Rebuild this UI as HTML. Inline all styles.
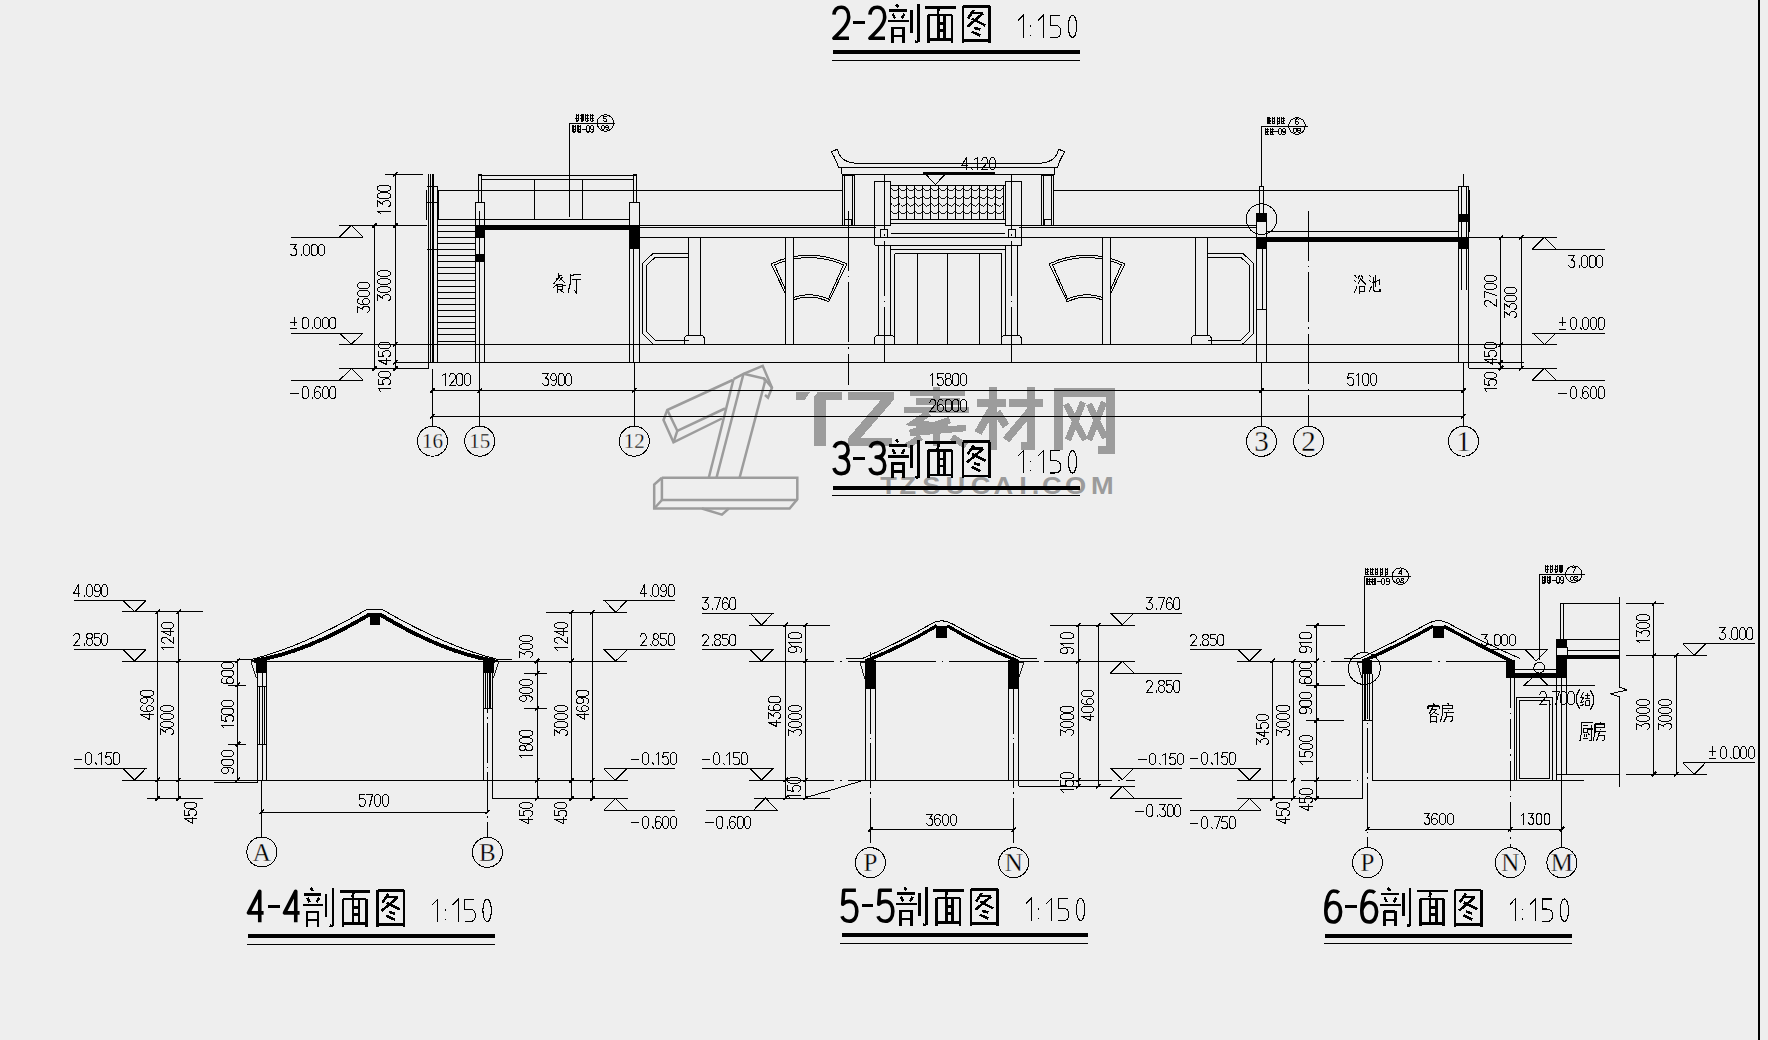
<!DOCTYPE html>
<html><head><meta charset="utf-8"><style>
html,body{margin:0;padding:0;width:1768px;height:1040px;overflow:hidden;background:#eeeeee;}
svg{display:block;}
.ser{font-family:"Liberation Serif",serif;fill:#000;stroke:#eeeeee;stroke-width:0.3px;paint-order:normal;shape-rendering:geometricPrecision;}
.wm{font-family:"Liberation Sans",sans-serif;font-weight:bold;fill:#9b9b9b;stroke:none;}
</style></head><body>
<svg width="1768" height="1040" viewBox="0 0 1768 1040">
<rect width="1768" height="1040" fill="#eeeeee"/>
<g stroke="#000" fill="none" stroke-linecap="butt" shape-rendering="crispEdges">
<path d="M661.9,477.7 L797.3,477.7 L797.3,499.2 L789.6,508.5 L654.2,508.5 L654.2,484.6 L661.9,477.7" stroke="#9c9c9c" stroke-width="2.5" fill="none" stroke-linejoin="miter" shape-rendering="geometricPrecision"/>
<path d="M661.9,477.7 L661.9,500 L797.3,500" stroke="#9c9c9c" stroke-width="2.5" fill="none" stroke-linejoin="miter" shape-rendering="geometricPrecision"/>
<path d="M661.9,500 L654.2,508.5" stroke="#9c9c9c" stroke-width="2.5" fill="none" stroke-linejoin="miter" shape-rendering="geometricPrecision"/>
<path d="M701.9,508.5 L721.9,514.6 L728.8,508.5" stroke="#9c9c9c" stroke-width="2.5" fill="none" stroke-linejoin="miter" shape-rendering="geometricPrecision"/>
<path d="M708.8,477.7 L733.5,379.2" stroke="#9c9c9c" stroke-width="2.5" fill="none" stroke-linejoin="miter" shape-rendering="geometricPrecision"/>
<path d="M716.5,477.7 L743.5,373.8" stroke="#9c9c9c" stroke-width="2.5" fill="none" stroke-linejoin="miter" shape-rendering="geometricPrecision"/>
<path d="M739.6,477.7 L765,381.5" stroke="#9c9c9c" stroke-width="2.5" fill="none" stroke-linejoin="miter" shape-rendering="geometricPrecision"/>
<path d="M733.5,379.2 L743.5,373.8 L762.7,365.8 L772,387.7 L768,397.7 L765,395" stroke="#9c9c9c" stroke-width="2.5" fill="none" stroke-linejoin="miter" shape-rendering="geometricPrecision"/>
<path d="M743.5,373.8 L764.2,378.5 L772,387.7" stroke="#9c9c9c" stroke-width="2.5" fill="none" stroke-linejoin="miter" shape-rendering="geometricPrecision"/>
<path d="M764.2,378.5 L765,381.5" stroke="#9c9c9c" stroke-width="2.5" fill="none" stroke-linejoin="miter" shape-rendering="geometricPrecision"/>
<path d="M732.7,380 L667.3,410 L663.5,420 L673.5,442.3 L721.9,418.5" stroke="#9c9c9c" stroke-width="2.5" fill="none" stroke-linejoin="miter" shape-rendering="geometricPrecision"/>
<path d="M667.3,410 L677.3,430.8 L673.5,442.3" stroke="#9c9c9c" stroke-width="2.5" fill="none" stroke-linejoin="miter" shape-rendering="geometricPrecision"/>
<path d="M677.3,430.8 L725,408.5" stroke="#9c9c9c" stroke-width="2.5" fill="none" stroke-linejoin="miter" shape-rendering="geometricPrecision"/>
<path d="M795.8,391.5 L810.5,391.5 L805,399.7 L795.8,399.7 Z M818,391.5 L842.4,391.5 L842.4,399.7 L825.6,399.7 L825.6,446.3 L814,446.3 L814,397 Z" fill="#9c9c9c" stroke="none"/>
<path d="M847.7,391.5 L894.3,391.5 L894.3,399.2 L861,437.7 L892,437.7 L892,446.3 L847.7,446.3 L847.7,438.5 L881,399.7 L847.7,399.7 Z" fill="#9c9c9c" stroke="none"/>
<path d="M910,393 L965,393 M916,401.5 L960,401.5 M904,410 L968.5,410 M936.5,386.5 L936.5,412" stroke="#9c9c9c" stroke-width="6.5" fill="none" stroke-linecap="butt"/>
<path d="M929,413 L914,423 L948,427 M950,420 L910,433 L966,428 M936.5,430 L936.5,446.3 M921,437 L907,446 M952,437 L966,446" stroke="#9c9c9c" stroke-width="6.5" fill="none" stroke-linecap="butt"/>
<path d="M977,403 L1006,403 M993,386.5 L993,450.2 M993,407 L978,433 M997,412 L1006,426" stroke="#9c9c9c" stroke-width="8" fill="none" stroke-linecap="butt"/>
<path d="M1009,403 L1043.3,403 M1031,386.5 L1031,446 L1021,446 M1031,410 L1006,440" stroke="#9c9c9c" stroke-width="8" fill="none" stroke-linecap="butt"/>
<path d="M1058.5,450.2 L1058.5,392.5 L1110.5,392.5 L1110.5,450.2 L1098,450.2" stroke="#9c9c9c" stroke-width="8.5" fill="none" stroke-linecap="butt"/>
<path d="M1066,404 L1085,440 M1083,402 L1068,440 M1089,404 L1105,438 M1104,402 L1089,440" stroke="#9c9c9c" stroke-width="6.5" fill="none" stroke-linecap="butt"/>
<text transform="translate(880.3,494.3) scale(1.15,1)" font-size="23.7" class="wm">T</text>
<text transform="translate(899.6,494.3) scale(1.15,1)" font-size="23.7" class="wm">Z</text>
<text transform="translate(922.3,494.3) scale(1.15,1)" font-size="23.7" class="wm">S</text>
<text transform="translate(945.6,494.3) scale(1.15,1)" font-size="23.7" class="wm">U</text>
<text transform="translate(970.7,494.3) scale(1.15,1)" font-size="23.7" class="wm">C</text>
<text transform="translate(993.6,494.3) scale(1.15,1)" font-size="23.7" class="wm">A</text>
<text transform="translate(1019.2,494.3) scale(1.15,1)" font-size="23.7" class="wm">I</text>
<text transform="translate(1031.8,494.3) scale(1.15,1)" font-size="23.7" class="wm">.</text>
<text transform="translate(1042.1,494.3) scale(1.15,1)" font-size="23.7" class="wm">C</text>
<text transform="translate(1064.9,494.3) scale(1.15,1)" font-size="23.7" class="wm">O</text>
<text transform="translate(1091.0,494.3) scale(1.15,1)" font-size="23.7" class="wm">M</text>
<path d="M339.7,237 L351.3,225.4 L362.9,237" stroke-width="1" fill="none"/>
<line x1="291" y1="237" x2="362.9" y2="237" stroke-width="1"/>
<path d="M290.5,244.5 L296.5,244.5 L293.5,248.5 L295.5,248.5 L296.5,250.5 L296.5,253.5 L295.5,255.5 L292.5,255.5 L290.5,254.5 M301.5,254.5 L301.5,255.5 M305.5,244.5 L307.5,244.5 L309.5,246.5 L309.5,253.5 L307.5,255.5 L305.5,255.5 L303.5,253.5 L303.5,246.5 L305.5,244.5 M312.5,244.5 L315.5,244.5 L317.5,246.5 L317.5,253.5 L315.5,255.5 L312.5,255.5 L311.5,253.5 L311.5,246.5 L312.5,244.5 M320.5,244.5 L322.5,244.5 L324.5,246.5 L324.5,253.5 L322.5,255.5 L320.5,255.5 L318.5,253.5 L318.5,246.5 L320.5,244.5" stroke-width="1" fill="none" stroke-linejoin="round" stroke-linecap="square"/>
<path d="M339.7,333.3 L351.3,344.2 L362.9,333.3" stroke-width="1" fill="none"/>
<line x1="291" y1="333.3" x2="362.9" y2="333.3" stroke-width="1"/>
<path d="M294.5,317.5 L294.5,325.5 M290.5,322.5 L296.5,322.5 M290.5,328.5 L296.5,328.5 M303.5,317.5 L306.5,317.5 L308.5,319.5 L308.5,326.5 L306.5,328.5 L303.5,328.5 L302.5,326.5 L302.5,319.5 L303.5,317.5 M312.5,327.5 L312.5,328.5 M316.5,317.5 L318.5,317.5 L320.5,319.5 L320.5,326.5 L318.5,328.5 L316.5,328.5 L314.5,326.5 L314.5,319.5 L316.5,317.5 M324.5,317.5 L326.5,317.5 L328.5,319.5 L328.5,326.5 L326.5,328.5 L324.5,328.5 L322.5,326.5 L322.5,319.5 L324.5,317.5 M331.5,317.5 L334.5,317.5 L335.5,319.5 L335.5,326.5 L334.5,328.5 L331.5,328.5 L329.5,326.5 L329.5,319.5 L331.5,317.5" stroke-width="1" fill="none" stroke-linejoin="round" stroke-linecap="square"/>
<path d="M339.7,380 L351.3,368.5 L362.9,380" stroke-width="1" fill="none"/>
<line x1="291" y1="380" x2="362.9" y2="380" stroke-width="1"/>
<path d="M290.5,393.5 L298.5,393.5 M303.5,386.5 L306.5,386.5 L308.5,389.5 L308.5,396.5 L306.5,398.5 L303.5,398.5 L302.5,396.5 L302.5,389.5 L303.5,386.5 M312.5,397.5 L312.5,398.5 M320.5,387.5 L318.5,386.5 L316.5,386.5 L314.5,389.5 L314.5,396.5 L316.5,398.5 L318.5,398.5 L320.5,396.5 L320.5,393.5 L318.5,391.5 L316.5,391.5 L314.5,393.5 M324.5,386.5 L326.5,386.5 L328.5,389.5 L328.5,396.5 L326.5,398.5 L324.5,398.5 L322.5,396.5 L322.5,389.5 L324.5,386.5 M331.5,386.5 L334.5,386.5 L335.5,389.5 L335.5,396.5 L334.5,398.5 L331.5,398.5 L329.5,396.5 L329.5,389.5 L331.5,386.5" stroke-width="1" fill="none" stroke-linejoin="round" stroke-linecap="square"/>
<line x1="339" y1="225.4" x2="427.3" y2="225.4" stroke-width="1"/>
<line x1="339" y1="344.2" x2="1557" y2="344.2" stroke-width="1"/>
<line x1="339" y1="368.5" x2="428" y2="368.5" stroke-width="1"/>
<line x1="374.5" y1="225.4" x2="374.5" y2="368.5" stroke-width="1"/>
<line x1="395.5" y1="174.3" x2="395.5" y2="370" stroke-width="1"/>
<line x1="385" y1="174.3" x2="423" y2="174.3" stroke-width="1"/>
<line x1="372.3" y1="227.6" x2="376.7" y2="223.2" stroke-width="1.6"/>
<line x1="372.3" y1="370.7" x2="376.7" y2="366.3" stroke-width="1.6"/>
<line x1="393.3" y1="176.5" x2="397.7" y2="172.1" stroke-width="1.6"/>
<line x1="393.3" y1="227.6" x2="397.7" y2="223.2" stroke-width="1.6"/>
<line x1="393.3" y1="346.4" x2="397.7" y2="342" stroke-width="1.6"/>
<line x1="393.3" y1="364.5" x2="397.7" y2="360.1" stroke-width="1.6"/>
<line x1="393.3" y1="370.7" x2="397.7" y2="366.3" stroke-width="1.6"/>
<path d="M357.5,312.5 L357.5,306.5 L362.5,309.5 L362.5,307.5 L364.5,306.5 L367.5,306.5 L369.5,307.5 L369.5,310.5 L367.5,312.5 M358.5,298.5 L357.5,300.5 L357.5,302.5 L360.5,304.5 L367.5,304.5 L369.5,302.5 L369.5,300.5 L367.5,298.5 L364.5,298.5 L362.5,300.5 L362.5,302.5 L364.5,304.5 M357.5,294.5 L357.5,292.5 L359.5,290.5 L367.5,290.5 L369.5,292.5 L369.5,294.5 L367.5,296.5 L359.5,296.5 L357.5,294.5 M357.5,286.5 L357.5,284.5 L359.5,282.5 L367.5,282.5 L369.5,284.5 L369.5,286.5 L367.5,288.5 L359.5,288.5 L357.5,286.5" stroke-width="1" fill="none" stroke-linejoin="round" stroke-linecap="square"/>
<path d="M380.5,213.5 L377.5,211.5 L390.5,211.5 M377.5,206.5 L377.5,200.5 L382.5,204.5 L382.5,202.5 L385.5,200.5 L388.5,200.5 L390.5,202.5 L390.5,205.5 L388.5,206.5 M377.5,197.5 L377.5,194.5 L380.5,192.5 L387.5,192.5 L390.5,194.5 L390.5,197.5 L387.5,198.5 L380.5,198.5 L377.5,197.5 M377.5,189.5 L377.5,186.5 L380.5,185.5 L387.5,185.5 L390.5,186.5 L390.5,189.5 L387.5,191.5 L380.5,191.5 L377.5,189.5" stroke-width="1" fill="none" stroke-linejoin="round" stroke-linecap="square"/>
<path d="M377.5,300.5 L377.5,294.5 L382.5,298.5 L382.5,296.5 L385.5,294.5 L388.5,294.5 L390.5,296.5 L390.5,299.5 L388.5,300.5 M377.5,290.5 L377.5,288.5 L380.5,286.5 L387.5,286.5 L390.5,288.5 L390.5,290.5 L387.5,292.5 L380.5,292.5 L377.5,290.5 M377.5,282.5 L377.5,280.5 L380.5,278.5 L387.5,278.5 L390.5,280.5 L390.5,282.5 L387.5,284.5 L380.5,284.5 L377.5,282.5 M377.5,274.5 L377.5,272.5 L380.5,270.5 L387.5,270.5 L390.5,272.5 L390.5,274.5 L387.5,276.5 L380.5,276.5 L377.5,274.5" stroke-width="1" fill="none" stroke-linejoin="round" stroke-linecap="square"/>
<path d="M390.5,360.5 L378.5,360.5 L386.5,364.5 L386.5,358.5 M378.5,351.5 L378.5,356.5 L383.5,356.5 L382.5,354.5 L382.5,352.5 L385.5,350.5 L388.5,350.5 L390.5,352.5 L390.5,355.5 L388.5,356.5 M378.5,346.5 L378.5,344.5 L380.5,342.5 L388.5,342.5 L390.5,344.5 L390.5,346.5 L388.5,348.5 L380.5,348.5 L378.5,346.5" stroke-width="1" fill="none" stroke-linejoin="round" stroke-linecap="square"/>
<path d="M380.5,391.5 L378.5,388.5 L390.5,388.5 M378.5,379.5 L378.5,384.5 L383.5,384.5 L382.5,382.5 L382.5,380.5 L385.5,378.5 L388.5,378.5 L390.5,380.5 L390.5,383.5 L388.5,384.5 M378.5,375.5 L378.5,373.5 L380.5,371.5 L388.5,371.5 L390.5,373.5 L390.5,375.5 L388.5,377.5 L380.5,377.5 L378.5,375.5" stroke-width="1" fill="none" stroke-linejoin="round" stroke-linecap="square"/>
<line x1="395.5" y1="362.3" x2="1523.8" y2="362.3" stroke-width="1"/>
<line x1="428" y1="174.1" x2="428" y2="368.5" stroke-width="1"/>
<line x1="430.5" y1="174.1" x2="430.5" y2="362.3" stroke-width="1"/>
<line x1="433.1" y1="174.1" x2="433.1" y2="362.3" stroke-width="1.5"/>
<line x1="437.5" y1="186.6" x2="437.5" y2="362.3" stroke-width="1"/>
<line x1="427.3" y1="186.6" x2="437.5" y2="186.6" stroke-width="1"/>
<line x1="427.3" y1="202.5" x2="437.5" y2="202.5" stroke-width="1"/>
<line x1="427.3" y1="249.1" x2="437.5" y2="249.1" stroke-width="1"/>
<line x1="426.4" y1="190" x2="426.4" y2="219.8" stroke-width="1.8"/>
<line x1="438.2" y1="190" x2="438.2" y2="219.8" stroke-width="1.8"/>
<line x1="437.5" y1="225.1" x2="475.4" y2="225.1" stroke-width="1"/>
<line x1="437.5" y1="231.2" x2="475.4" y2="231.2" stroke-width="1"/>
<line x1="437.5" y1="237.3" x2="475.4" y2="237.3" stroke-width="1"/>
<line x1="437.5" y1="243.4" x2="475.4" y2="243.4" stroke-width="1"/>
<line x1="437.5" y1="249.5" x2="475.4" y2="249.5" stroke-width="1"/>
<line x1="437.5" y1="255.6" x2="475.4" y2="255.6" stroke-width="1"/>
<line x1="437.5" y1="261.7" x2="475.4" y2="261.7" stroke-width="1"/>
<line x1="437.5" y1="267.8" x2="475.4" y2="267.8" stroke-width="1"/>
<line x1="437.5" y1="273.9" x2="475.4" y2="273.9" stroke-width="1"/>
<line x1="437.5" y1="280" x2="475.4" y2="280" stroke-width="1"/>
<line x1="437.5" y1="286.1" x2="475.4" y2="286.1" stroke-width="1"/>
<line x1="437.5" y1="292.2" x2="475.4" y2="292.2" stroke-width="1"/>
<line x1="437.5" y1="298.3" x2="475.4" y2="298.3" stroke-width="1"/>
<line x1="437.5" y1="304.4" x2="475.4" y2="304.4" stroke-width="1"/>
<line x1="437.5" y1="310.5" x2="475.4" y2="310.5" stroke-width="1"/>
<line x1="437.5" y1="316.6" x2="475.4" y2="316.6" stroke-width="1"/>
<line x1="437.5" y1="322.7" x2="475.4" y2="322.7" stroke-width="1"/>
<line x1="437.5" y1="328.8" x2="475.4" y2="328.8" stroke-width="1"/>
<line x1="437.5" y1="334.9" x2="475.4" y2="334.9" stroke-width="1"/>
<line x1="437.5" y1="341" x2="475.4" y2="341" stroke-width="1"/>
<line x1="437.5" y1="219.3" x2="629.2" y2="219.3" stroke-width="1"/>
<line x1="437.7" y1="190.5" x2="842.3" y2="190.5" stroke-width="1"/>
<line x1="1053.8" y1="190.5" x2="1458.5" y2="190.5" stroke-width="1"/>
<line x1="478.5" y1="175.8" x2="636" y2="175.8" stroke-width="1"/>
<line x1="481.6" y1="179.2" x2="633" y2="179.2" stroke-width="1"/>
<rect x="478.5" y="174.1" width="3.1" height="28.2" fill="none" stroke-width="1"/>
<rect x="633" y="174.1" width="3" height="28.2" fill="none" stroke-width="1"/>
<line x1="534.6" y1="179.2" x2="534.6" y2="219.3" stroke-width="1"/>
<line x1="582.3" y1="179.2" x2="582.3" y2="219.3" stroke-width="1"/>
<line x1="569.2" y1="123" x2="569.2" y2="217" stroke-width="1"/>
<line x1="569.2" y1="123" x2="615.4" y2="123" stroke-width="1"/>
<circle cx="605.4" cy="123" r="8.3" fill="none" stroke-width="1"/>
<rect x="475.4" y="202.3" width="9.1" height="160" fill="none" stroke-width="1"/>
<rect x="475.4" y="225.1" width="9.1" height="12.5" fill="#000" stroke="none"/>
<rect x="475.4" y="254.4" width="9.1" height="7.2" fill="#000" stroke="none"/>
<line x1="479.7" y1="211" x2="479.7" y2="426.2" stroke-width="1"/>
<rect x="484.5" y="225.3" width="144.7" height="4.7" fill="#000" stroke="none"/>
<rect x="629.2" y="202.3" width="10.5" height="160" fill="none" stroke-width="1"/>
<rect x="629.2" y="225.3" width="10.5" height="23.9" fill="#000" stroke="none"/>
<line x1="633.8" y1="249.2" x2="633.8" y2="362.3" stroke-width="1"/>
<line x1="634.3" y1="362.3" x2="634.3" y2="426.2" stroke-width="1"/>
<line x1="432.5" y1="368.5" x2="432.5" y2="426.2" stroke-width="1"/>
<line x1="639.7" y1="225.6" x2="876" y2="225.6" stroke-width="1"/>
<line x1="639.7" y1="227.7" x2="876" y2="227.7" stroke-width="1"/>
<line x1="639.7" y1="237.3" x2="874.6" y2="237.3" stroke-width="1"/>
<line x1="1019" y1="225.6" x2="1256.2" y2="225.6" stroke-width="1"/>
<line x1="1019" y1="227.7" x2="1256.2" y2="227.7" stroke-width="1"/>
<line x1="1021.5" y1="237.3" x2="1256.2" y2="237.3" stroke-width="1"/>
<line x1="688.5" y1="237.3" x2="688.5" y2="335.4" stroke-width="1"/>
<line x1="700.5" y1="237.3" x2="700.5" y2="335.4" stroke-width="1"/>
<path d="M684.7,344.2 L684.7,339 Q684.7,335.4 688.5,335.4 L700.5,335.4 Q704.3,335.4 704.3,339 L704.3,344.2" stroke-width="1" fill="none"/>
<line x1="1195.5" y1="237.3" x2="1195.5" y2="335.4" stroke-width="1"/>
<line x1="1207.5" y1="237.3" x2="1207.5" y2="335.4" stroke-width="1"/>
<path d="M1191.7,344.2 L1191.7,339 Q1191.7,335.4 1195.5,335.4 L1207.5,335.4 Q1211.3,335.4 1211.3,339 L1211.3,344.2" stroke-width="1" fill="none"/>
<line x1="785.4" y1="237.3" x2="785.4" y2="344.2" stroke-width="1"/>
<line x1="793.4" y1="237.3" x2="793.4" y2="344.2" stroke-width="1"/>
<line x1="1102.6" y1="237.3" x2="1102.6" y2="344.2" stroke-width="1"/>
<line x1="1110.6" y1="237.3" x2="1110.6" y2="344.2" stroke-width="1"/>
<path d="M688.5,253 L653.5,253 L642.3,263.5 L642.3,333.5 L653.5,344.2" stroke-width="1" fill="none"/>
<path d="M688.5,257.2 L655.3,257.2 L646.3,265.5 L646.3,331.5 L655.3,340.2 L688.5,340.2" stroke-width="1" fill="none"/>
<path d="M1207.5,253 L1242.5,253 L1253.7,263.5 L1253.7,333.5 L1242.5,344.2" stroke-width="1" fill="none"/>
<path d="M1207.5,257.2 L1240.7,257.2 L1249.7,265.5 L1249.7,331.5 L1240.7,340.2 L1207.5,340.2" stroke-width="1" fill="none"/>
<path d="M771.12,263.87 A88,88 0 0 1 846.88,263.87 L828.8,301.78 A46,46 0 0 0 789.2,301.78 Z" stroke-width="1" fill="none"/>
<path d="M774.55,264.83 A85.7,85.7 0 0 1 843.45,264.83 L828.41,299.07 A48.3,48.3 0 0 0 789.59,299.07 Z" stroke-width="1" fill="none"/>
<path d="M1049.12,263.87 A88,88 0 0 1 1124.88,263.87 L1106.8,301.78 A46,46 0 0 0 1067.2,301.78 Z" stroke-width="1" fill="none"/>
<path d="M1052.55,264.83 A85.7,85.7 0 0 1 1121.45,264.83 L1106.41,299.07 A48.3,48.3 0 0 0 1067.59,299.07 Z" stroke-width="1" fill="none"/>
<rect x="786" y="250" width="6.8" height="60" fill="#eeeeee" stroke="none"/>
<rect x="1103.2" y="250" width="6.8" height="60" fill="#eeeeee" stroke="none"/>
<line x1="785.4" y1="237.3" x2="785.4" y2="344.2" stroke-width="1"/>
<line x1="793.4" y1="237.3" x2="793.4" y2="344.2" stroke-width="1"/>
<line x1="1102.6" y1="237.3" x2="1102.6" y2="344.2" stroke-width="1"/>
<line x1="1110.6" y1="237.3" x2="1110.6" y2="344.2" stroke-width="1"/>
<line x1="848.5" y1="210.8" x2="848.5" y2="384.6" stroke-width="1" stroke-dasharray="60 5 1.5 5"/>
<path d="M853.8,163 L1042.2,163" stroke-width="1" fill="none"/>
<path d="M853.8,163 C845,162 839,157 837.5,149.2 L831.3,151.8 C835,158 837.5,163 838.5,167.7 L1057.5,167.7 C1058.5,163 1061,158 1064.7,151.8 L1058.5,149.2 C1057,157 1051,162 1042.2,163" stroke-width="1" fill="none"/>
<line x1="841.5" y1="174" x2="1054.5" y2="174" stroke-width="1"/>
<line x1="841.5" y1="167.7" x2="841.5" y2="174" stroke-width="1"/>
<line x1="1054.5" y1="167.7" x2="1054.5" y2="174" stroke-width="1"/>
<rect x="842.3" y="175.4" width="12.3" height="50" fill="none" stroke-width="1"/>
<rect x="1041.4" y="175.4" width="12.3" height="50" fill="none" stroke-width="1"/>
<rect x="844.3" y="219.2" width="7.2" height="6.2" fill="none" stroke-width="1"/>
<rect x="1044.5" y="219.2" width="7.2" height="6.2" fill="none" stroke-width="1"/>
<line x1="844.8" y1="176" x2="844.8" y2="219.2" stroke-width="1"/>
<line x1="852.3" y1="176" x2="852.3" y2="225.4" stroke-width="1"/>
<line x1="1043.6" y1="176" x2="1043.6" y2="225.4" stroke-width="1"/>
<line x1="1051.2" y1="176" x2="1051.2" y2="219.2" stroke-width="1"/>
<rect x="890.8" y="185.4" width="114.6" height="33.8" fill="none" stroke-width="1"/>
<line x1="890.8" y1="223.8" x2="1005.4" y2="223.8" stroke-width="1"/>
<rect x="874.6" y="181.5" width="16.2" height="43.9" fill="none" stroke-width="1"/>
<rect x="1005.4" y="181.5" width="16.1" height="43.9" fill="none" stroke-width="1"/>
<line x1="898.83" y1="185.4" x2="898.83" y2="219.2" stroke-width="1"/>
<line x1="906.86" y1="185.4" x2="906.86" y2="219.2" stroke-width="1"/>
<line x1="914.89" y1="185.4" x2="914.89" y2="219.2" stroke-width="1"/>
<line x1="922.92" y1="185.4" x2="922.92" y2="219.2" stroke-width="1"/>
<line x1="930.95" y1="185.4" x2="930.95" y2="219.2" stroke-width="1"/>
<line x1="938.98" y1="185.4" x2="938.98" y2="219.2" stroke-width="1"/>
<line x1="947.01" y1="185.4" x2="947.01" y2="219.2" stroke-width="1"/>
<line x1="955.04" y1="185.4" x2="955.04" y2="219.2" stroke-width="1"/>
<line x1="963.07" y1="185.4" x2="963.07" y2="219.2" stroke-width="1"/>
<line x1="971.1" y1="185.4" x2="971.1" y2="219.2" stroke-width="1"/>
<line x1="979.13" y1="185.4" x2="979.13" y2="219.2" stroke-width="1"/>
<line x1="987.16" y1="185.4" x2="987.16" y2="219.2" stroke-width="1"/>
<line x1="995.19" y1="185.4" x2="995.19" y2="219.2" stroke-width="1"/>
<line x1="1003.22" y1="185.4" x2="1003.22" y2="219.2" stroke-width="1"/>
<path d="M890.8,188 Q894.81,194 898.83,188 M898.83,188 Q902.84,194 906.86,188 M906.86,188 Q910.87,194 914.89,188 M914.89,188 Q918.9,194 922.92,188 M922.92,188 Q926.93,194 930.95,188 M930.95,188 Q934.96,194 938.98,188 M938.98,188 Q942.99,194 947.01,188 M947.01,188 Q951.02,194 955.04,188 M955.04,188 Q959.05,194 963.07,188 M963.07,188 Q967.08,194 971.1,188 M971.1,188 Q975.11,194 979.13,188 M979.13,188 Q983.14,194 987.16,188 M987.16,188 Q991.17,194 995.19,188 M995.19,188 Q999.2,194 1003.22,188 M890.8,195.6 Q894.81,201.6 898.83,195.6 M898.83,195.6 Q902.84,201.6 906.86,195.6 M906.86,195.6 Q910.87,201.6 914.89,195.6 M914.89,195.6 Q918.9,201.6 922.92,195.6 M922.92,195.6 Q926.93,201.6 930.95,195.6 M930.95,195.6 Q934.96,201.6 938.98,195.6 M938.98,195.6 Q942.99,201.6 947.01,195.6 M947.01,195.6 Q951.02,201.6 955.04,195.6 M955.04,195.6 Q959.05,201.6 963.07,195.6 M963.07,195.6 Q967.08,201.6 971.1,195.6 M971.1,195.6 Q975.11,201.6 979.13,195.6 M979.13,195.6 Q983.14,201.6 987.16,195.6 M987.16,195.6 Q991.17,201.6 995.19,195.6 M995.19,195.6 Q999.2,201.6 1003.22,195.6 M890.8,203.2 Q894.81,209.2 898.83,203.2 M898.83,203.2 Q902.84,209.2 906.86,203.2 M906.86,203.2 Q910.87,209.2 914.89,203.2 M914.89,203.2 Q918.9,209.2 922.92,203.2 M922.92,203.2 Q926.93,209.2 930.95,203.2 M930.95,203.2 Q934.96,209.2 938.98,203.2 M938.98,203.2 Q942.99,209.2 947.01,203.2 M947.01,203.2 Q951.02,209.2 955.04,203.2 M955.04,203.2 Q959.05,209.2 963.07,203.2 M963.07,203.2 Q967.08,209.2 971.1,203.2 M971.1,203.2 Q975.11,209.2 979.13,203.2 M979.13,203.2 Q983.14,209.2 987.16,203.2 M987.16,203.2 Q991.17,209.2 995.19,203.2 M995.19,203.2 Q999.2,209.2 1003.22,203.2 M890.8,210.8 Q894.81,216.8 898.83,210.8 M898.83,210.8 Q902.84,216.8 906.86,210.8 M906.86,210.8 Q910.87,216.8 914.89,210.8 M914.89,210.8 Q918.9,216.8 922.92,210.8 M922.92,210.8 Q926.93,216.8 930.95,210.8 M930.95,210.8 Q934.96,216.8 938.98,210.8 M938.98,210.8 Q942.99,216.8 947.01,210.8 M947.01,210.8 Q951.02,216.8 955.04,210.8 M955.04,210.8 Q959.05,216.8 963.07,210.8 M963.07,210.8 Q967.08,216.8 971.1,210.8 M971.1,210.8 Q975.11,216.8 979.13,210.8 M979.13,210.8 Q983.14,216.8 987.16,210.8 M987.16,210.8 Q991.17,216.8 995.19,210.8 M995.19,210.8 Q999.2,216.8 1003.22,210.8" stroke-width="0.9" fill="none"/>
<line x1="923" y1="173" x2="994.6" y2="173" stroke-width="1.5"/>
<path d="M924.6,173 L935.4,184.6 L946.2,173" stroke-width="1" fill="none"/>
<path d="M966.5,169.5 L966.5,157.5 L961.5,165.5 L967.5,165.5 M971.5,168.5 L972.5,169.5 M974.5,159.5 L977.5,157.5 L977.5,169.5 M981.5,160.5 L983.5,157.5 L986.5,157.5 L987.5,160.5 L987.5,162.5 L981.5,169.5 L987.5,169.5 M991.5,157.5 L993.5,157.5 L995.5,160.5 L995.5,167.5 L993.5,169.5 L991.5,169.5 L989.5,167.5 L989.5,160.5 L991.5,157.5" stroke-width="1" fill="none" stroke-linejoin="round" stroke-linecap="square"/>
<line x1="890.8" y1="233" x2="1005.4" y2="233" stroke-width="1"/>
<line x1="874.6" y1="237.2" x2="1021.5" y2="237.2" stroke-width="1"/>
<line x1="874.6" y1="245.4" x2="1021.5" y2="245.4" stroke-width="1"/>
<line x1="874.6" y1="225.4" x2="874.6" y2="245.4" stroke-width="1"/>
<line x1="1021.5" y1="225.4" x2="1021.5" y2="245.4" stroke-width="1"/>
<rect x="880.8" y="229.4" width="7" height="7.8" fill="none" stroke-width="1"/>
<rect x="1008.2" y="229.4" width="7" height="7.8" fill="none" stroke-width="1"/>
<line x1="890.8" y1="249.2" x2="1005.4" y2="249.2" stroke-width="1"/>
<line x1="894.6" y1="253.5" x2="1001.5" y2="253.5" stroke-width="1"/>
<line x1="878.5" y1="245.4" x2="878.5" y2="335.4" stroke-width="1"/>
<line x1="890.8" y1="245.4" x2="890.8" y2="335.4" stroke-width="1"/>
<path d="M874.7,344.2 L874.7,339 Q874.7,335.4 878.5,335.4 L890.8,335.4 Q894.6,335.4 894.6,339 L894.6,344.2" stroke-width="1" fill="none"/>
<line x1="1005.2" y1="245.4" x2="1005.2" y2="335.4" stroke-width="1"/>
<line x1="1017.5" y1="245.4" x2="1017.5" y2="335.4" stroke-width="1"/>
<path d="M1001.4,344.2 L1001.4,339 Q1001.4,335.4 1005.2,335.4 L1017.5,335.4 Q1021.3,335.4 1021.3,339 L1021.3,344.2" stroke-width="1" fill="none"/>
<line x1="884.2" y1="174" x2="884.2" y2="362.3" stroke-width="1" stroke-dasharray="55 5 1.5 5"/>
<line x1="1011.8" y1="174" x2="1011.8" y2="362.3" stroke-width="1" stroke-dasharray="55 5 1.5 5"/>
<line x1="894.6" y1="253.5" x2="894.6" y2="344.2" stroke-width="1"/>
<line x1="917" y1="253.5" x2="917" y2="344.2" stroke-width="1"/>
<line x1="947.7" y1="253.5" x2="947.7" y2="344.2" stroke-width="1"/>
<line x1="979.7" y1="253.5" x2="979.7" y2="344.2" stroke-width="1"/>
<line x1="1001.5" y1="253.5" x2="1001.5" y2="344.2" stroke-width="1"/>
<line x1="890.8" y1="249.2" x2="890.8" y2="253.5" stroke-width="1"/>
<line x1="1005.4" y1="249.2" x2="1005.4" y2="253.5" stroke-width="1"/>
<line x1="1261.5" y1="126" x2="1261.5" y2="186" stroke-width="1"/>
<line x1="1261.5" y1="126" x2="1307.7" y2="126" stroke-width="1"/>
<circle cx="1297" cy="126" r="8.3" fill="none" stroke-width="1"/>
<rect x="1259.2" y="186" width="4.6" height="27.8" fill="none" stroke-width="1"/>
<rect x="1256.4" y="213.8" width="10.4" height="148.5" fill="none" stroke-width="1"/>
<rect x="1256.4" y="213.8" width="10.4" height="7.7" fill="#000" stroke="none"/>
<rect x="1256.4" y="237" width="10.4" height="12.2" fill="#000" stroke="none"/>
<line x1="1262.3" y1="249.2" x2="1262.3" y2="309.2" stroke-width="1.6"/>
<line x1="1256.4" y1="309.2" x2="1266.8" y2="309.2" stroke-width="1"/>
<line x1="1261.5" y1="362.3" x2="1261.5" y2="426.2" stroke-width="1"/>
<circle cx="1261.5" cy="219.2" r="15.3" fill="none" stroke-width="1"/>
<line x1="1308.5" y1="210.8" x2="1308.5" y2="426.2" stroke-width="1" stroke-dasharray="50 5 1.5 5"/>
<line x1="1266.8" y1="231.5" x2="1458.5" y2="231.5" stroke-width="1"/>
<rect x="1266.8" y="237.4" width="191.7" height="4.2" fill="#000" stroke="none"/>
<rect x="1458.5" y="186.5" width="10.4" height="175.8" fill="none" stroke-width="1"/>
<rect x="1458.5" y="213.8" width="10.4" height="7.7" fill="#000" stroke="none"/>
<rect x="1458.5" y="237.4" width="10.4" height="11.8" fill="#000" stroke="none"/>
<line x1="1463.5" y1="174" x2="1463.5" y2="186.5" stroke-width="1"/>
<line x1="1463.5" y1="362.3" x2="1463.5" y2="426.2" stroke-width="1"/>
<line x1="1461.5" y1="186.5" x2="1461.5" y2="290" stroke-width="1"/>
<line x1="1466" y1="186.5" x2="1466" y2="290" stroke-width="1"/>
<line x1="1468.9" y1="190" x2="1468.9" y2="232" stroke-width="1.6"/>
<line x1="1468.9" y1="237.4" x2="1557" y2="237.4" stroke-width="1"/>
<line x1="1468.5" y1="368.2" x2="1557" y2="368.2" stroke-width="1"/>
<line x1="1468.5" y1="362.3" x2="1468.5" y2="368.2" stroke-width="1"/>
<line x1="1500.8" y1="237.4" x2="1500.8" y2="368.2" stroke-width="1"/>
<line x1="1521.2" y1="237.4" x2="1521.2" y2="368.2" stroke-width="1"/>
<line x1="1498.6" y1="239.6" x2="1503" y2="235.2" stroke-width="1.6"/>
<line x1="1498.6" y1="346.8" x2="1503" y2="342.4" stroke-width="1.6"/>
<line x1="1498.6" y1="364.5" x2="1503" y2="360.1" stroke-width="1.6"/>
<line x1="1498.6" y1="370.4" x2="1503" y2="366" stroke-width="1.6"/>
<line x1="1519" y1="239.6" x2="1523.4" y2="235.2" stroke-width="1.6"/>
<line x1="1519" y1="370.4" x2="1523.4" y2="366" stroke-width="1.6"/>
<path d="M1486.5,306.5 L1484.5,304.5 L1484.5,301.5 L1486.5,300.5 L1488.5,300.5 L1496.5,306.5 L1496.5,299.5 M1484.5,297.5 L1484.5,291.5 L1496.5,295.5 M1484.5,287.5 L1484.5,285.5 L1486.5,283.5 L1493.5,283.5 L1496.5,285.5 L1496.5,287.5 L1493.5,289.5 L1486.5,289.5 L1484.5,287.5 M1484.5,279.5 L1484.5,277.5 L1486.5,275.5 L1493.5,275.5 L1496.5,277.5 L1496.5,279.5 L1493.5,281.5 L1486.5,281.5 L1484.5,279.5" stroke-width="1" fill="none" stroke-linejoin="round" stroke-linecap="square"/>
<path d="M1504.5,317.5 L1504.5,311.5 L1509.5,315.5 L1509.5,313.5 L1511.5,311.5 L1514.5,311.5 L1516.5,313.5 L1516.5,316.5 L1514.5,317.5 M1504.5,309.5 L1504.5,303.5 L1509.5,307.5 L1509.5,305.5 L1511.5,303.5 L1514.5,303.5 L1516.5,305.5 L1516.5,308.5 L1514.5,309.5 M1504.5,299.5 L1504.5,297.5 L1506.5,295.5 L1514.5,295.5 L1516.5,297.5 L1516.5,299.5 L1514.5,301.5 L1506.5,301.5 L1504.5,299.5 M1504.5,291.5 L1504.5,289.5 L1506.5,287.5 L1514.5,287.5 L1516.5,289.5 L1516.5,291.5 L1514.5,293.5 L1506.5,293.5 L1504.5,291.5" stroke-width="1" fill="none" stroke-linejoin="round" stroke-linecap="square"/>
<path d="M1496.5,359.5 L1484.5,359.5 L1492.5,364.5 L1492.5,358.5 M1484.5,351.5 L1484.5,356.5 L1489.5,356.5 L1488.5,354.5 L1488.5,352.5 L1490.5,350.5 L1494.5,350.5 L1496.5,352.5 L1496.5,355.5 L1494.5,356.5 M1484.5,347.5 L1484.5,344.5 L1486.5,342.5 L1493.5,342.5 L1496.5,344.5 L1496.5,347.5 L1493.5,348.5 L1486.5,348.5 L1484.5,347.5" stroke-width="1" fill="none" stroke-linejoin="round" stroke-linecap="square"/>
<path d="M1486.5,391.5 L1484.5,388.5 L1496.5,388.5 M1484.5,379.5 L1484.5,384.5 L1489.5,385.5 L1488.5,383.5 L1488.5,381.5 L1490.5,379.5 L1494.5,379.5 L1496.5,380.5 L1496.5,383.5 L1494.5,385.5 M1484.5,376.5 L1484.5,374.5 L1486.5,372.5 L1493.5,372.5 L1496.5,374.5 L1496.5,376.5 L1493.5,378.5 L1486.5,378.5 L1484.5,376.5" stroke-width="1" fill="none" stroke-linejoin="round" stroke-linecap="square"/>
<path d="M1532.7,249 L1544.3,237.4 L1555.9,249" stroke-width="1" fill="none"/>
<line x1="1532.3" y1="249" x2="1605" y2="249" stroke-width="1"/>
<path d="M1568.5,255.5 L1574.5,255.5 L1571.5,260.5 L1573.5,260.5 L1574.5,262.5 L1574.5,265.5 L1573.5,267.5 L1570.5,267.5 L1568.5,265.5 M1579.5,265.5 L1579.5,267.5 M1583.5,255.5 L1585.5,255.5 L1587.5,257.5 L1587.5,265.5 L1585.5,267.5 L1583.5,267.5 L1581.5,265.5 L1581.5,257.5 L1583.5,255.5 M1590.5,255.5 L1593.5,255.5 L1595.5,257.5 L1595.5,265.5 L1593.5,267.5 L1590.5,267.5 L1589.5,265.5 L1589.5,257.5 L1590.5,255.5 M1598.5,255.5 L1600.5,255.5 L1602.5,257.5 L1602.5,265.5 L1600.5,267.5 L1598.5,267.5 L1596.5,265.5 L1596.5,257.5 L1598.5,255.5" stroke-width="1" fill="none" stroke-linejoin="round" stroke-linecap="square"/>
<path d="M1532.7,333 L1544.3,344.6 L1555.9,333" stroke-width="1" fill="none"/>
<line x1="1532.3" y1="333" x2="1605" y2="333" stroke-width="1"/>
<path d="M1562.5,317.5 L1562.5,325.5 M1559.5,322.5 L1565.5,322.5 M1559.5,329.5 L1565.5,329.5 M1572.5,317.5 L1574.5,317.5 L1576.5,319.5 L1576.5,326.5 L1574.5,329.5 L1572.5,329.5 L1570.5,326.5 L1570.5,319.5 L1572.5,317.5 M1580.5,327.5 L1581.5,329.5 M1584.5,317.5 L1586.5,317.5 L1588.5,319.5 L1588.5,326.5 L1586.5,329.5 L1584.5,329.5 L1582.5,326.5 L1582.5,319.5 L1584.5,317.5 M1592.5,317.5 L1594.5,317.5 L1596.5,319.5 L1596.5,326.5 L1594.5,329.5 L1592.5,329.5 L1590.5,326.5 L1590.5,319.5 L1592.5,317.5 M1599.5,317.5 L1602.5,317.5 L1604.5,319.5 L1604.5,326.5 L1602.5,329.5 L1599.5,329.5 L1598.5,326.5 L1598.5,319.5 L1599.5,317.5" stroke-width="1" fill="none" stroke-linejoin="round" stroke-linecap="square"/>
<path d="M1532.7,380 L1544.3,368.2 L1555.9,380" stroke-width="1" fill="none"/>
<line x1="1532.3" y1="380" x2="1605" y2="380" stroke-width="1"/>
<path d="M1558.5,393.5 L1566.5,393.5 M1572.5,386.5 L1574.5,386.5 L1576.5,389.5 L1576.5,396.5 L1574.5,398.5 L1572.5,398.5 L1570.5,396.5 L1570.5,389.5 L1572.5,386.5 M1580.5,397.5 L1581.5,398.5 M1588.5,388.5 L1586.5,386.5 L1584.5,386.5 L1582.5,389.5 L1582.5,396.5 L1584.5,398.5 L1586.5,398.5 L1588.5,396.5 L1588.5,394.5 L1586.5,391.5 L1584.5,391.5 L1582.5,394.5 M1592.5,386.5 L1594.5,386.5 L1596.5,389.5 L1596.5,396.5 L1594.5,398.5 L1592.5,398.5 L1590.5,396.5 L1590.5,389.5 L1592.5,386.5 M1599.5,386.5 L1602.5,386.5 L1604.5,389.5 L1604.5,396.5 L1602.5,398.5 L1599.5,398.5 L1598.5,396.5 L1598.5,389.5 L1599.5,386.5" stroke-width="1" fill="none" stroke-linejoin="round" stroke-linecap="square"/>
<line x1="432.5" y1="390.5" x2="1463.5" y2="390.5" stroke-width="1"/>
<line x1="432.5" y1="416.2" x2="1463.5" y2="416.2" stroke-width="1"/>
<line x1="430.3" y1="392.7" x2="434.7" y2="388.3" stroke-width="1.6"/>
<line x1="477.5" y1="392.7" x2="481.9" y2="388.3" stroke-width="1.6"/>
<line x1="632.1" y1="392.7" x2="636.5" y2="388.3" stroke-width="1.6"/>
<line x1="1259.3" y1="392.7" x2="1263.7" y2="388.3" stroke-width="1.6"/>
<line x1="1461.3" y1="392.7" x2="1465.7" y2="388.3" stroke-width="1.6"/>
<line x1="430.3" y1="418.4" x2="434.7" y2="414" stroke-width="1.6"/>
<line x1="1461.3" y1="418.4" x2="1465.7" y2="414" stroke-width="1.6"/>
<path d="M442.5,375.5 L445.5,373.5 L445.5,385.5 M449.5,376.5 L450.5,373.5 L453.5,373.5 L455.5,375.5 L455.5,378.5 L449.5,385.5 L455.5,385.5 M458.5,373.5 L461.5,373.5 L462.5,375.5 L462.5,383.5 L461.5,385.5 L458.5,385.5 L456.5,383.5 L456.5,375.5 L458.5,373.5 M466.5,373.5 L468.5,373.5 L470.5,375.5 L470.5,383.5 L468.5,385.5 L466.5,385.5 L464.5,383.5 L464.5,375.5 L466.5,373.5" stroke-width="1" fill="none" stroke-linejoin="round" stroke-linecap="square"/>
<path d="M542.5,373.5 L548.5,373.5 L545.5,378.5 L547.5,378.5 L548.5,380.5 L548.5,383.5 L547.5,385.5 L544.5,385.5 L542.5,383.5 M551.5,384.5 L552.5,385.5 L554.5,385.5 L556.5,382.5 L556.5,376.5 L554.5,373.5 L552.5,373.5 L550.5,376.5 L550.5,378.5 L552.5,380.5 L554.5,380.5 L556.5,378.5 M559.5,373.5 L562.5,373.5 L564.5,376.5 L564.5,383.5 L562.5,385.5 L559.5,385.5 L558.5,383.5 L558.5,376.5 L559.5,373.5 M567.5,373.5 L569.5,373.5 L571.5,376.5 L571.5,383.5 L569.5,385.5 L567.5,385.5 L565.5,383.5 L565.5,376.5 L567.5,373.5" stroke-width="1" fill="none" stroke-linejoin="round" stroke-linecap="square"/>
<path d="M930.5,375.5 L932.5,373.5 L932.5,385.5 M943.5,373.5 L937.5,373.5 L937.5,378.5 L939.5,377.5 L941.5,377.5 L943.5,380.5 L943.5,383.5 L941.5,385.5 L938.5,385.5 L937.5,383.5 M946.5,373.5 L949.5,373.5 L950.5,374.5 L950.5,377.5 L949.5,378.5 L946.5,378.5 L945.5,377.5 L945.5,374.5 L946.5,373.5 M946.5,378.5 L945.5,380.5 L945.5,383.5 L946.5,385.5 L949.5,385.5 L951.5,383.5 L951.5,380.5 L949.5,378.5 M954.5,373.5 L957.5,373.5 L958.5,375.5 L958.5,383.5 L957.5,385.5 L954.5,385.5 L952.5,383.5 L952.5,375.5 L954.5,373.5 M962.5,373.5 L964.5,373.5 L966.5,375.5 L966.5,383.5 L964.5,385.5 L962.5,385.5 L960.5,383.5 L960.5,375.5 L962.5,373.5" stroke-width="1" fill="none" stroke-linejoin="round" stroke-linecap="square"/>
<path d="M1353.5,373.5 L1348.5,373.5 L1347.5,378.5 L1349.5,377.5 L1351.5,377.5 L1353.5,379.5 L1353.5,383.5 L1352.5,385.5 L1349.5,385.5 L1347.5,383.5 M1356.5,375.5 L1358.5,373.5 L1358.5,385.5 M1364.5,373.5 L1367.5,373.5 L1368.5,375.5 L1368.5,382.5 L1367.5,385.5 L1364.5,385.5 L1362.5,382.5 L1362.5,375.5 L1364.5,373.5 M1372.5,373.5 L1374.5,373.5 L1376.5,375.5 L1376.5,382.5 L1374.5,385.5 L1372.5,385.5 L1370.5,382.5 L1370.5,375.5 L1372.5,373.5" stroke-width="1" fill="none" stroke-linejoin="round" stroke-linecap="square"/>
<path d="M929.5,402.5 L931.5,399.5 L934.5,399.5 L935.5,401.5 L935.5,404.5 L929.5,411.5 L935.5,411.5 M942.5,400.5 L941.5,399.5 L939.5,399.5 L937.5,402.5 L937.5,409.5 L939.5,411.5 L941.5,411.5 L943.5,409.5 L943.5,406.5 L941.5,404.5 L939.5,404.5 L937.5,406.5 M946.5,399.5 L949.5,399.5 L951.5,401.5 L951.5,409.5 L949.5,411.5 L946.5,411.5 L945.5,409.5 L945.5,401.5 L946.5,399.5 M954.5,399.5 L957.5,399.5 L958.5,401.5 L958.5,409.5 L957.5,411.5 L954.5,411.5 L952.5,409.5 L952.5,401.5 L954.5,399.5 M962.5,399.5 L964.5,399.5 L966.5,401.5 L966.5,409.5 L964.5,411.5 L962.5,411.5 L960.5,409.5 L960.5,401.5 L962.5,399.5" stroke-width="1" fill="none" stroke-linejoin="round" stroke-linecap="square"/>
<circle cx="432.5" cy="441.2" r="15" fill="none" stroke-width="1"/>
<text x="432.5" y="441.2" font-size="21" text-anchor="middle" dominant-baseline="central" class="ser">16</text>
<circle cx="479.7" cy="441.2" r="15" fill="none" stroke-width="1"/>
<text x="479.7" y="441.2" font-size="21" text-anchor="middle" dominant-baseline="central" class="ser">15</text>
<circle cx="634.3" cy="441.2" r="15" fill="none" stroke-width="1"/>
<text x="634.3" y="441.2" font-size="21" text-anchor="middle" dominant-baseline="central" class="ser">12</text>
<circle cx="1261.5" cy="441.3" r="15" fill="none" stroke-width="1"/>
<text x="1261.5" y="441.3" font-size="29" text-anchor="middle" dominant-baseline="central" class="ser">3</text>
<circle cx="1308.6" cy="441.3" r="15" fill="none" stroke-width="1"/>
<text x="1308.6" y="441.3" font-size="29" text-anchor="middle" dominant-baseline="central" class="ser">2</text>
<circle cx="1463.5" cy="441.2" r="15" fill="none" stroke-width="1"/>
<text x="1463.5" y="441.2" font-size="29" text-anchor="middle" dominant-baseline="central" class="ser">1</text>
<path d="M 833.9,14.64 C 834.49,9.06 837.16,7.2 841.3,7.2 C 845.74,7.2 848.7,10.92 848.7,17.12 C 848.7,23.32 843.52,28.9 833.9,38.2 L 849,38.2" stroke-width="3.6" fill="none" stroke-linejoin="round" stroke-linecap="butt" shape-rendering="geometricPrecision"/>
<path d="M853.4,22.7 L864.9,22.7" stroke-width="3.2" fill="none"/>
<path d="M 869.9,14.64 C 870.49,9.06 873.16,7.2 877.3,7.2 C 881.74,7.2 884.7,10.92 884.7,17.12 C 884.7,23.32 879.52,28.9 869.9,38.2 L 885,38.2" stroke-width="3.6" fill="none" stroke-linejoin="round" stroke-linecap="butt" shape-rendering="geometricPrecision"/>
<path d="M896,4.2 L898.4,7 M889,10.2 L906.7,10.2 M892.6,13.7 L895,18.4 M904.4,13.7 L902,18.4 M888,21.1 L908.7,21.1 M892.4,27.9 L903.3,27.9 M892.4,26.7 L892.4,42.5 M903.3,26.7 L903.3,42.5 M892.4,36 L903.3,36 M911.4,9.6 L911.4,32.6 M918.2,4.1 L918.2,42.1 M918.2,42.1 L914.9,41.6 M925.3,7.2 L955.6,7.2 M938.9,8.6 L937.6,13.6 M928.4,15 L951.8,15 M928.4,15 L928.4,42.5 M951.8,15 L951.8,42.5 M928.4,39.4 L951.8,39.4 M938.2,15 L938.2,39.4 M944.4,15 L944.4,39.4 M938.2,23.5 L944.4,23.5 M938.2,30.6 L944.4,30.6 M963,6.2 L989.5,6.2 M963,6.2 L963,42.8 M989.5,6.2 L989.5,42.8 M963,40.4 L989.5,40.4 M973.9,9.9 L967.8,18.7 M972.9,13 L983.1,13.3 M983.1,13.3 L967.1,26.9 M971.9,18.7 L985.4,25.5 M974.2,27.9 L980.3,29.6 M971.5,31.6 L980.3,35.7" stroke-width="2.6" fill="none" stroke-linecap="butt"/>
<path d="M1017.9,20.7 L1023.3,15.2 L1023.3,37.6 M1038,20.7 L1043.5,15.2 L1043.5,37.6 M1059.8,15.2 L1050.3,15.2 L1050.3,25.2 L1055,25.2 C1058.6,25.2 1060.8,27.9 1060.8,31.4 C1060.8,35.2 1058.6,37.6 1055,37.6 L1050.3,37.6" stroke-width="1.1" fill="none"/>
<rect x="1030" y="25.3" width="1.3" height="1.3" fill="#000" stroke="none"/>
<rect x="1030" y="34.5" width="1.3" height="1.3" fill="#000" stroke="none"/>
<ellipse cx="1072.5" cy="26.4" rx="4.2" ry="11.2" fill="none" stroke-width="1.1"/>
<rect x="833.4" y="50.3" width="246.5" height="4.1" fill="#000" stroke="none"/>
<line x1="831.9" y1="60" x2="1079.9" y2="60" stroke-width="1"/>
<path d="M 834.2,447.56 C 835.68,443.53 838.34,442.6 841.3,442.6 C 845.74,442.6 848.11,445.7 848.11,450.35 C 848.11,455 845.44,457.17 840.12,457.17 C 845.74,457.17 848.7,460.58 848.7,465.54 C 848.7,471.12 845.74,473.6 841.3,473.6 C 838.04,473.6 835.08,472.05 833.9,468.02" stroke-width="3.6" fill="none" stroke-linejoin="round" stroke-linecap="butt" shape-rendering="geometricPrecision"/>
<path d="M853.4,458.1 L864.9,458.1" stroke-width="3.2" fill="none"/>
<path d="M 870.2,447.56 C 871.68,443.53 874.34,442.6 877.3,442.6 C 881.74,442.6 884.11,445.7 884.11,450.35 C 884.11,455 881.44,457.17 876.12,457.17 C 881.74,457.17 884.7,460.58 884.7,465.54 C 884.7,471.12 881.74,473.6 877.3,473.6 C 874.04,473.6 871.08,472.05 869.9,468.02" stroke-width="3.6" fill="none" stroke-linejoin="round" stroke-linecap="butt" shape-rendering="geometricPrecision"/>
<path d="M896,439.6 L898.4,442.4 M889,445.6 L906.7,445.6 M892.6,449.1 L895,453.8 M904.4,449.1 L902,453.8 M888,456.5 L908.7,456.5 M892.4,463.3 L903.3,463.3 M892.4,462.1 L892.4,477.9 M903.3,462.1 L903.3,477.9 M892.4,471.4 L903.3,471.4 M911.4,445 L911.4,468 M918.2,439.5 L918.2,477.5 M918.2,477.5 L914.9,477 M925.3,442.6 L955.6,442.6 M938.9,444 L937.6,449 M928.4,450.4 L951.8,450.4 M928.4,450.4 L928.4,477.9 M951.8,450.4 L951.8,477.9 M928.4,474.8 L951.8,474.8 M938.2,450.4 L938.2,474.8 M944.4,450.4 L944.4,474.8 M938.2,458.9 L944.4,458.9 M938.2,466 L944.4,466 M963,441.6 L989.5,441.6 M963,441.6 L963,478.2 M989.5,441.6 L989.5,478.2 M963,475.8 L989.5,475.8 M973.9,445.3 L967.8,454.1 M972.9,448.4 L983.1,448.7 M983.1,448.7 L967.1,462.3 M971.9,454.1 L985.4,460.9 M974.2,463.3 L980.3,465 M971.5,467 L980.3,471.1" stroke-width="2.6" fill="none" stroke-linecap="butt"/>
<path d="M1017.9,456.1 L1023.3,450.6 L1023.3,473 M1038,456.1 L1043.5,450.6 L1043.5,473 M1059.8,450.6 L1050.3,450.6 L1050.3,460.6 L1055,460.6 C1058.6,460.6 1060.8,463.3 1060.8,466.8 C1060.8,470.6 1058.6,473 1055,473 L1050.3,473" stroke-width="1.1" fill="none"/>
<rect x="1030" y="460.7" width="1.3" height="1.3" fill="#000" stroke="none"/>
<rect x="1030" y="469.9" width="1.3" height="1.3" fill="#000" stroke="none"/>
<ellipse cx="1072.5" cy="461.8" rx="4.2" ry="11.2" fill="none" stroke-width="1.1"/>
<rect x="833.4" y="485.7" width="246.5" height="4.1" fill="#000" stroke="none"/>
<line x1="831.9" y1="495.4" x2="1079.9" y2="495.4" stroke-width="1"/>
<path d="M 259.75,922.2 L 259.75,891.2 L 248.5,912.9 L 263.6,912.9" stroke-width="3.6" fill="none" stroke-linejoin="round" stroke-linecap="butt" shape-rendering="geometricPrecision"/>
<path d="M268,906.7 L279.5,906.7" stroke-width="3.2" fill="none"/>
<path d="M 295.75,922.2 L 295.75,891.2 L 284.5,912.9 L 299.6,912.9" stroke-width="3.6" fill="none" stroke-linejoin="round" stroke-linecap="butt" shape-rendering="geometricPrecision"/>
<path d="M310.6,888.2 L313,891 M303.6,894.2 L321.3,894.2 M307.2,897.7 L309.6,902.4 M319,897.7 L316.6,902.4 M302.6,905.1 L323.3,905.1 M307,911.9 L317.9,911.9 M307,910.7 L307,926.5 M317.9,910.7 L317.9,926.5 M307,920 L317.9,920 M326,893.6 L326,916.6 M332.8,888.1 L332.8,926.1 M332.8,926.1 L329.5,925.6 M339.9,891.2 L370.2,891.2 M353.5,892.6 L352.2,897.6 M343,899 L366.4,899 M343,899 L343,926.5 M366.4,899 L366.4,926.5 M343,923.4 L366.4,923.4 M352.8,899 L352.8,923.4 M359,899 L359,923.4 M352.8,907.5 L359,907.5 M352.8,914.6 L359,914.6 M377.6,890.2 L404.1,890.2 M377.6,890.2 L377.6,926.8 M404.1,890.2 L404.1,926.8 M377.6,924.4 L404.1,924.4 M388.5,893.9 L382.4,902.7 M387.5,897 L397.7,897.3 M397.7,897.3 L381.7,910.9 M386.5,902.7 L400,909.5 M388.8,911.9 L394.9,913.6 M386.1,915.6 L394.9,919.7" stroke-width="2.6" fill="none" stroke-linecap="butt"/>
<path d="M432.5,904.7 L437.9,899.2 L437.9,921.6 M452.6,904.7 L458.1,899.2 L458.1,921.6 M474.4,899.2 L464.9,899.2 L464.9,909.2 L469.6,909.2 C473.2,909.2 475.4,911.9 475.4,915.4 C475.4,919.2 473.2,921.6 469.6,921.6 L464.9,921.6" stroke-width="1.1" fill="none"/>
<rect x="444.6" y="909.3" width="1.3" height="1.3" fill="#000" stroke="none"/>
<rect x="444.6" y="918.5" width="1.3" height="1.3" fill="#000" stroke="none"/>
<ellipse cx="487.1" cy="910.4" rx="4.2" ry="11.2" fill="none" stroke-width="1.1"/>
<rect x="248" y="934.3" width="246.5" height="4.1" fill="#000" stroke="none"/>
<line x1="246.5" y1="944" x2="494.5" y2="944" stroke-width="1"/>
<path d="M 855.91,890.2 L 843.78,890.2 L 842.74,904.15 C 844.96,901.98 847.18,901.36 849.4,901.36 C 854.14,901.36 856.8,905.7 856.8,911.28 C 856.8,917.48 853.84,921.2 849.4,921.2 C 846.14,921.2 843.18,919.65 842,916.24" stroke-width="3.6" fill="none" stroke-linejoin="round" stroke-linecap="butt" shape-rendering="geometricPrecision"/>
<path d="M861.5,905.7 L873,905.7" stroke-width="3.2" fill="none"/>
<path d="M 891.91,890.2 L 879.78,890.2 L 878.74,904.15 C 880.96,901.98 883.18,901.36 885.4,901.36 C 890.14,901.36 892.8,905.7 892.8,911.28 C 892.8,917.48 889.84,921.2 885.4,921.2 C 882.14,921.2 879.18,919.65 878,916.24" stroke-width="3.6" fill="none" stroke-linejoin="round" stroke-linecap="butt" shape-rendering="geometricPrecision"/>
<path d="M904.1,887.2 L906.5,890 M897.1,893.2 L914.8,893.2 M900.7,896.7 L903.1,901.4 M912.5,896.7 L910.1,901.4 M896.1,904.1 L916.8,904.1 M900.5,910.9 L911.4,910.9 M900.5,909.7 L900.5,925.5 M911.4,909.7 L911.4,925.5 M900.5,919 L911.4,919 M919.5,892.6 L919.5,915.6 M926.3,887.1 L926.3,925.1 M926.3,925.1 L923,924.6 M933.4,890.2 L963.7,890.2 M947,891.6 L945.7,896.6 M936.5,898 L959.9,898 M936.5,898 L936.5,925.5 M959.9,898 L959.9,925.5 M936.5,922.4 L959.9,922.4 M946.3,898 L946.3,922.4 M952.5,898 L952.5,922.4 M946.3,906.5 L952.5,906.5 M946.3,913.6 L952.5,913.6 M971.1,889.2 L997.6,889.2 M971.1,889.2 L971.1,925.8 M997.6,889.2 L997.6,925.8 M971.1,923.4 L997.6,923.4 M982,892.9 L975.9,901.7 M981,896 L991.2,896.3 M991.2,896.3 L975.2,909.9 M980,901.7 L993.5,908.5 M982.3,910.9 L988.4,912.6 M979.6,914.6 L988.4,918.7" stroke-width="2.6" fill="none" stroke-linecap="butt"/>
<path d="M1026,903.7 L1031.4,898.2 L1031.4,920.6 M1046.1,903.7 L1051.6,898.2 L1051.6,920.6 M1067.9,898.2 L1058.4,898.2 L1058.4,908.2 L1063.1,908.2 C1066.7,908.2 1068.9,910.9 1068.9,914.4 C1068.9,918.2 1066.7,920.6 1063.1,920.6 L1058.4,920.6" stroke-width="1.1" fill="none"/>
<rect x="1038.1" y="908.3" width="1.3" height="1.3" fill="#000" stroke="none"/>
<rect x="1038.1" y="917.5" width="1.3" height="1.3" fill="#000" stroke="none"/>
<ellipse cx="1080.6" cy="909.4" rx="4.2" ry="11.2" fill="none" stroke-width="1.1"/>
<rect x="841.5" y="933.3" width="246.5" height="4.1" fill="#000" stroke="none"/>
<line x1="840" y1="943" x2="1088" y2="943" stroke-width="1"/>
<path d="M 1338.82,892.86 C 1337.34,891.31 1334.98,891 1333.5,891 C 1328.76,891 1325.8,900.3 1325.8,910.84 C 1325.8,918.28 1328.76,922 1333.2,922 C 1337.64,922 1340.6,917.66 1340.6,911.77 C 1340.6,905.88 1337.64,902.47 1333.2,902.47 C 1329.5,902.47 1326.54,906.5 1325.8,910.84" stroke-width="3.6" fill="none" stroke-linejoin="round" stroke-linecap="butt" shape-rendering="geometricPrecision"/>
<path d="M1345.3,906.5 L1356.8,906.5" stroke-width="3.2" fill="none"/>
<path d="M 1374.82,892.86 C 1373.34,891.31 1370.98,891 1369.5,891 C 1364.76,891 1361.8,900.3 1361.8,910.84 C 1361.8,918.28 1364.76,922 1369.2,922 C 1373.64,922 1376.6,917.66 1376.6,911.77 C 1376.6,905.88 1373.64,902.47 1369.2,902.47 C 1365.5,902.47 1362.54,906.5 1361.8,910.84" stroke-width="3.6" fill="none" stroke-linejoin="round" stroke-linecap="butt" shape-rendering="geometricPrecision"/>
<path d="M1387.9,888 L1390.3,890.8 M1380.9,894 L1398.6,894 M1384.5,897.5 L1386.9,902.2 M1396.3,897.5 L1393.9,902.2 M1379.9,904.9 L1400.6,904.9 M1384.3,911.7 L1395.2,911.7 M1384.3,910.5 L1384.3,926.3 M1395.2,910.5 L1395.2,926.3 M1384.3,919.8 L1395.2,919.8 M1403.3,893.4 L1403.3,916.4 M1410.1,887.9 L1410.1,925.9 M1410.1,925.9 L1406.8,925.4 M1417.2,891 L1447.5,891 M1430.8,892.4 L1429.5,897.4 M1420.3,898.8 L1443.7,898.8 M1420.3,898.8 L1420.3,926.3 M1443.7,898.8 L1443.7,926.3 M1420.3,923.2 L1443.7,923.2 M1430.1,898.8 L1430.1,923.2 M1436.3,898.8 L1436.3,923.2 M1430.1,907.3 L1436.3,907.3 M1430.1,914.4 L1436.3,914.4 M1454.9,890 L1481.4,890 M1454.9,890 L1454.9,926.6 M1481.4,890 L1481.4,926.6 M1454.9,924.2 L1481.4,924.2 M1465.8,893.7 L1459.7,902.5 M1464.8,896.8 L1475,897.1 M1475,897.1 L1459,910.7 M1463.8,902.5 L1477.3,909.3 M1466.1,911.7 L1472.2,913.4 M1463.4,915.4 L1472.2,919.5" stroke-width="2.6" fill="none" stroke-linecap="butt"/>
<path d="M1509.8,904.5 L1515.2,899 L1515.2,921.4 M1529.9,904.5 L1535.4,899 L1535.4,921.4 M1551.7,899 L1542.2,899 L1542.2,909 L1546.9,909 C1550.5,909 1552.7,911.7 1552.7,915.2 C1552.7,919 1550.5,921.4 1546.9,921.4 L1542.2,921.4" stroke-width="1.1" fill="none"/>
<rect x="1521.9" y="909.1" width="1.3" height="1.3" fill="#000" stroke="none"/>
<rect x="1521.9" y="918.3" width="1.3" height="1.3" fill="#000" stroke="none"/>
<ellipse cx="1564.4" cy="910.2" rx="4.2" ry="11.2" fill="none" stroke-width="1.1"/>
<rect x="1325.3" y="934.1" width="246.5" height="4.1" fill="#000" stroke="none"/>
<line x1="1323.8" y1="943.8" x2="1571.8" y2="943.8" stroke-width="1"/>
<rect x="1758" y="0" width="2.2" height="1040" fill="#000" stroke="none"/>
<path d="M123,600.5 L134.6,611.8 L146.2,600.5" stroke-width="1" fill="none"/>
<line x1="73.8" y1="600.5" x2="146.2" y2="600.5" stroke-width="1"/>
<path d="M78.5,596.5 L78.5,584.5 L73.5,593.5 L79.5,593.5 M84.5,595.5 L84.5,596.5 M88.5,584.5 L90.5,584.5 L92.5,587.5 L92.5,594.5 L90.5,596.5 L88.5,596.5 L86.5,594.5 L86.5,587.5 L88.5,584.5 M94.5,595.5 L95.5,596.5 L98.5,596.5 L100.5,593.5 L100.5,587.5 L98.5,584.5 L95.5,584.5 L94.5,587.5 L94.5,589.5 L95.5,591.5 L98.5,591.5 L100.5,589.5 M103.5,584.5 L105.5,584.5 L107.5,587.5 L107.5,594.5 L105.5,596.5 L103.5,596.5 L101.5,594.5 L101.5,587.5 L103.5,584.5" stroke-width="1" fill="none" stroke-linejoin="round" stroke-linecap="square"/>
<line x1="122.3" y1="611.8" x2="203" y2="611.8" stroke-width="1"/>
<path d="M123,649.5 L134.6,661 L146.2,649.5" stroke-width="1" fill="none"/>
<line x1="73.8" y1="649.5" x2="146.2" y2="649.5" stroke-width="1"/>
<path d="M73.5,635.5 L75.5,633.5 L78.5,633.5 L79.5,635.5 L79.5,638.5 L73.5,645.5 L79.5,645.5 M84.5,643.5 L84.5,645.5 M88.5,633.5 L90.5,633.5 L92.5,634.5 L92.5,637.5 L90.5,638.5 L88.5,638.5 L86.5,637.5 L86.5,634.5 L88.5,633.5 M88.5,638.5 L86.5,640.5 L86.5,643.5 L88.5,645.5 L90.5,645.5 L92.5,643.5 L92.5,640.5 L90.5,638.5 M99.5,633.5 L94.5,633.5 L94.5,638.5 L95.5,637.5 L98.5,637.5 L100.5,639.5 L100.5,643.5 L98.5,645.5 L95.5,645.5 L94.5,643.5 M103.5,633.5 L105.5,633.5 L107.5,635.5 L107.5,642.5 L105.5,645.5 L103.5,645.5 L101.5,642.5 L101.5,635.5 L103.5,633.5" stroke-width="1" fill="none" stroke-linejoin="round" stroke-linecap="square"/>
<line x1="122.3" y1="661" x2="237" y2="661" stroke-width="1"/>
<path d="M122.8,768.3 L134.4,780 L146,768.3" stroke-width="1" fill="none"/>
<line x1="74.4" y1="768.3" x2="146.6" y2="768.3" stroke-width="1"/>
<path d="M74.5,759.5 L81.5,759.5 M87.5,752.5 L89.5,752.5 L91.5,754.5 L91.5,762.5 L89.5,764.5 L87.5,764.5 L85.5,762.5 L85.5,754.5 L87.5,752.5 M95.5,762.5 L96.5,764.5 M98.5,754.5 L101.5,752.5 L101.5,764.5 M111.5,752.5 L106.5,752.5 L105.5,757.5 L107.5,756.5 L109.5,756.5 L111.5,759.5 L111.5,762.5 L110.5,764.5 L107.5,764.5 L105.5,762.5 M114.5,752.5 L117.5,752.5 L119.5,754.5 L119.5,762.5 L117.5,764.5 L114.5,764.5 L113.5,762.5 L113.5,754.5 L114.5,752.5" stroke-width="1" fill="none" stroke-linejoin="round" stroke-linecap="square"/>
<line x1="122" y1="780" x2="257.7" y2="780" stroke-width="1"/>
<line x1="157.7" y1="611.8" x2="157.7" y2="798.4" stroke-width="1"/>
<line x1="178.5" y1="611.8" x2="178.5" y2="798.4" stroke-width="1"/>
<line x1="155.5" y1="614" x2="159.9" y2="609.6" stroke-width="1.6"/>
<line x1="155.5" y1="782.2" x2="159.9" y2="777.8" stroke-width="1.6"/>
<line x1="155.5" y1="800.6" x2="159.9" y2="796.2" stroke-width="1.6"/>
<line x1="176.3" y1="614" x2="180.7" y2="609.6" stroke-width="1.6"/>
<line x1="176.3" y1="663.2" x2="180.7" y2="658.8" stroke-width="1.6"/>
<line x1="176.3" y1="782.2" x2="180.7" y2="777.8" stroke-width="1.6"/>
<line x1="176.3" y1="800.6" x2="180.7" y2="796.2" stroke-width="1.6"/>
<line x1="147.4" y1="798.4" x2="203" y2="798.4" stroke-width="1"/>
<path d="M163.5,649.5 L161.5,647.5 L173.5,647.5 M164.5,643.5 L161.5,641.5 L161.5,638.5 L163.5,637.5 L166.5,637.5 L173.5,643.5 L173.5,637.5 M173.5,631.5 L161.5,631.5 L170.5,635.5 L170.5,629.5 M161.5,626.5 L161.5,624.5 L163.5,622.5 L171.5,622.5 L173.5,624.5 L173.5,626.5 L171.5,628.5 L163.5,628.5 L161.5,626.5" stroke-width="1" fill="none" stroke-linejoin="round" stroke-linecap="square"/>
<path d="M153.5,714.5 L140.5,714.5 L149.5,719.5 L149.5,713.5 M142.5,705.5 L140.5,707.5 L140.5,709.5 L143.5,711.5 L150.5,711.5 L153.5,709.5 L153.5,707.5 L150.5,705.5 L148.5,705.5 L146.5,707.5 L146.5,709.5 L148.5,711.5 M151.5,703.5 L153.5,701.5 L153.5,699.5 L150.5,697.5 L143.5,697.5 L140.5,699.5 L140.5,701.5 L143.5,703.5 L145.5,703.5 L147.5,701.5 L147.5,699.5 L145.5,697.5 M140.5,694.5 L140.5,691.5 L143.5,690.5 L150.5,690.5 L153.5,691.5 L153.5,694.5 L150.5,696.5 L143.5,696.5 L140.5,694.5" stroke-width="1" fill="none" stroke-linejoin="round" stroke-linecap="square"/>
<path d="M160.5,734.5 L160.5,728.5 L165.5,732.5 L165.5,730.5 L168.5,728.5 L171.5,728.5 L173.5,730.5 L173.5,733.5 L171.5,734.5 M160.5,725.5 L160.5,723.5 L163.5,721.5 L170.5,721.5 L173.5,723.5 L173.5,725.5 L170.5,727.5 L163.5,727.5 L160.5,725.5 M160.5,717.5 L160.5,715.5 L163.5,713.5 L170.5,713.5 L173.5,715.5 L173.5,717.5 L170.5,719.5 L163.5,719.5 L160.5,717.5 M160.5,709.5 L160.5,707.5 L163.5,705.5 L170.5,705.5 L173.5,707.5 L173.5,709.5 L170.5,711.5 L163.5,711.5 L160.5,709.5" stroke-width="1" fill="none" stroke-linejoin="round" stroke-linecap="square"/>
<path d="M196.5,818.5 L184.5,818.5 L192.5,823.5 L192.5,817.5 M184.5,810.5 L184.5,815.5 L189.5,815.5 L188.5,813.5 L188.5,811.5 L190.5,809.5 L194.5,809.5 L196.5,811.5 L196.5,814.5 L194.5,815.5 M184.5,806.5 L184.5,803.5 L186.5,802.5 L193.5,802.5 L196.5,803.5 L196.5,806.5 L193.5,808.5 L186.5,808.5 L184.5,806.5" stroke-width="1" fill="none" stroke-linejoin="round" stroke-linecap="square"/>
<line x1="237.8" y1="661" x2="237.8" y2="780" stroke-width="1"/>
<line x1="227.5" y1="685" x2="245.5" y2="685" stroke-width="1"/>
<line x1="227.5" y1="744.1" x2="245.5" y2="744.1" stroke-width="1"/>
<line x1="235.6" y1="663.2" x2="240" y2="658.8" stroke-width="1.6"/>
<line x1="235.6" y1="687.2" x2="240" y2="682.8" stroke-width="1.6"/>
<line x1="235.6" y1="746.3" x2="240" y2="741.9" stroke-width="1.6"/>
<line x1="235.6" y1="782.2" x2="240" y2="777.8" stroke-width="1.6"/>
<path d="M222.5,678.5 L221.5,679.5 L221.5,682.5 L224.5,683.5 L231.5,683.5 L233.5,682.5 L233.5,679.5 L231.5,677.5 L228.5,677.5 L226.5,679.5 L226.5,682.5 L228.5,683.5 M221.5,674.5 L221.5,671.5 L223.5,670.5 L231.5,670.5 L233.5,671.5 L233.5,674.5 L231.5,676.5 L223.5,676.5 L221.5,674.5 M221.5,666.5 L221.5,664.5 L223.5,662.5 L231.5,662.5 L233.5,664.5 L233.5,666.5 L231.5,668.5 L223.5,668.5 L221.5,666.5" stroke-width="1" fill="none" stroke-linejoin="round" stroke-linecap="square"/>
<path d="M223.5,727.5 L221.5,725.5 L233.5,725.5 M221.5,715.5 L221.5,720.5 L226.5,721.5 L225.5,719.5 L225.5,717.5 L228.5,715.5 L231.5,715.5 L233.5,716.5 L233.5,719.5 L232.5,721.5 M221.5,712.5 L221.5,709.5 L223.5,708.5 L231.5,708.5 L233.5,709.5 L233.5,712.5 L231.5,714.5 L223.5,714.5 L221.5,712.5 M221.5,704.5 L221.5,702.5 L223.5,700.5 L231.5,700.5 L233.5,702.5 L233.5,704.5 L231.5,706.5 L223.5,706.5 L221.5,704.5" stroke-width="1" fill="none" stroke-linejoin="round" stroke-linecap="square"/>
<path d="M232.5,773.5 L233.5,771.5 L233.5,769.5 L230.5,767.5 L223.5,767.5 L221.5,769.5 L221.5,771.5 L223.5,773.5 L226.5,773.5 L228.5,771.5 L228.5,769.5 L226.5,767.5 M221.5,763.5 L221.5,760.5 L223.5,759.5 L231.5,759.5 L233.5,760.5 L233.5,763.5 L231.5,765.5 L223.5,765.5 L221.5,763.5 M221.5,754.5 L221.5,752.5 L223.5,750.5 L231.5,750.5 L233.5,752.5 L233.5,754.5 L231.5,756.5 L223.5,756.5 L221.5,754.5" stroke-width="1" fill="none" stroke-linejoin="round" stroke-linecap="square"/>
<line x1="213.6" y1="782" x2="257.7" y2="782" stroke-width="1"/>
<path d="M254.2,660.8 Q305,653 370,614.2" stroke-width="3.9" fill="none"/>
<path d="M494.8,660.8 Q444,653 379.5,614.2" stroke-width="3.9" fill="none"/>
<path d="M237,659.7 L250,659.7 Q300,648 367.3,609.2 L381.7,609.2 Q449,648 499,659.7 L512,659.7" stroke-width="1" fill="none"/>
<path d="M250,659.7 L254.5,661" stroke-width="1" fill="none"/>
<path d="M499,659.7 L494.5,661" stroke-width="1" fill="none"/>
<rect x="369.7" y="613.2" width="10.1" height="11.5" fill="#000" stroke="none"/>
<line x1="266.7" y1="661" x2="483.4" y2="661" stroke-width="1"/>
<line x1="257.3" y1="780.2" x2="492.6" y2="780.2" stroke-width="1"/>
<rect x="256.2" y="659.5" width="10.5" height="13.3" fill="#000" stroke="none"/>
<line x1="257.3" y1="672.8" x2="257.3" y2="782" stroke-width="1"/>
<line x1="262" y1="672.8" x2="262" y2="780.2" stroke-width="1"/>
<line x1="266.7" y1="672.8" x2="266.7" y2="780.2" stroke-width="1"/>
<line x1="259.6" y1="686" x2="259.6" y2="744.5" stroke-width="1.4"/>
<line x1="264.3" y1="686" x2="264.3" y2="744.5" stroke-width="1.4"/>
<line x1="257.3" y1="686" x2="266.7" y2="686" stroke-width="1"/>
<line x1="257.3" y1="744.5" x2="266.7" y2="744.5" stroke-width="1"/>
<path d="M256.2,661 L251.2,662 L256.2,678" stroke-width="0.9" fill="none"/>
<rect x="483.4" y="659.5" width="10.1" height="13.5" fill="#000" stroke="none"/>
<line x1="483.5" y1="673" x2="483.5" y2="780.2" stroke-width="1"/>
<line x1="492.6" y1="673" x2="492.6" y2="798.5" stroke-width="1"/>
<line x1="487.4" y1="673" x2="487.4" y2="837" stroke-width="1" stroke-dasharray="40 4 1.5 4"/>
<line x1="485.4" y1="673" x2="485.4" y2="708" stroke-width="1.4"/>
<line x1="489.8" y1="673" x2="489.8" y2="708" stroke-width="1.4"/>
<line x1="483.5" y1="708" x2="492.6" y2="708" stroke-width="1"/>
<path d="M493.5,661 L498.5,662 L493.5,678" stroke-width="0.9" fill="none"/>
<line x1="492.6" y1="798.5" x2="627.7" y2="798.5" stroke-width="1"/>
<line x1="492.6" y1="780.3" x2="627.7" y2="780.3" stroke-width="1"/>
<line x1="261.8" y1="780.2" x2="261.8" y2="837.3" stroke-width="1"/>
<circle cx="261.8" cy="852" r="15" fill="none" stroke-width="1"/>
<text x="261.8" y="852" font-size="25" text-anchor="middle" dominant-baseline="central" class="ser">A</text>
<circle cx="487.4" cy="852.3" r="15" fill="none" stroke-width="1"/>
<text x="487.4" y="852.3" font-size="25" text-anchor="middle" dominant-baseline="central" class="ser">B</text>
<line x1="261.8" y1="812" x2="487.4" y2="812" stroke-width="1"/>
<line x1="259.6" y1="814.2" x2="264" y2="809.8" stroke-width="1.6"/>
<line x1="485.2" y1="814.2" x2="489.6" y2="809.8" stroke-width="1.6"/>
<path d="M364.5,794.5 L359.5,794.5 L359.5,799.5 L360.5,798.5 L363.5,798.5 L365.5,800.5 L365.5,803.5 L363.5,806.5 L360.5,806.5 L359.5,804.5 M366.5,794.5 L372.5,794.5 L369.5,806.5 M376.5,794.5 L378.5,794.5 L380.5,796.5 L380.5,803.5 L378.5,806.5 L376.5,806.5 L374.5,803.5 L374.5,796.5 L376.5,794.5 M384.5,794.5 L386.5,794.5 L388.5,796.5 L388.5,803.5 L386.5,806.5 L384.5,806.5 L382.5,803.5 L382.5,796.5 L384.5,794.5" stroke-width="1" fill="none" stroke-linejoin="round" stroke-linecap="square"/>
<line x1="537" y1="661" x2="537" y2="798.5" stroke-width="1"/>
<line x1="524.2" y1="673.3" x2="547" y2="673.3" stroke-width="1"/>
<line x1="524.2" y1="708.6" x2="547" y2="708.6" stroke-width="1"/>
<line x1="534.8" y1="663.2" x2="539.2" y2="658.8" stroke-width="1.6"/>
<line x1="534.8" y1="675.5" x2="539.2" y2="671.1" stroke-width="1.6"/>
<line x1="534.8" y1="710.8" x2="539.2" y2="706.4" stroke-width="1.6"/>
<line x1="534.8" y1="782.5" x2="539.2" y2="778.1" stroke-width="1.6"/>
<line x1="534.8" y1="800.7" x2="539.2" y2="796.3" stroke-width="1.6"/>
<path d="M519.5,657.5 L519.5,651.5 L524.5,654.5 L524.5,653.5 L526.5,651.5 L529.5,651.5 L532.5,652.5 L532.5,655.5 L530.5,657.5 M519.5,647.5 L519.5,645.5 L522.5,643.5 L529.5,643.5 L532.5,645.5 L532.5,647.5 L529.5,649.5 L522.5,649.5 L519.5,647.5 M519.5,639.5 L519.5,637.5 L522.5,635.5 L529.5,635.5 L532.5,637.5 L532.5,639.5 L529.5,641.5 L522.5,641.5 L519.5,639.5" stroke-width="1" fill="none" stroke-linejoin="round" stroke-linecap="square"/>
<path d="M530.5,701.5 L532.5,699.5 L532.5,697.5 L528.5,695.5 L522.5,695.5 L519.5,697.5 L519.5,699.5 L522.5,701.5 L524.5,701.5 L526.5,699.5 L526.5,697.5 L524.5,695.5 M519.5,691.5 L519.5,689.5 L522.5,687.5 L529.5,687.5 L532.5,689.5 L532.5,691.5 L529.5,693.5 L522.5,693.5 L519.5,691.5 M519.5,683.5 L519.5,681.5 L522.5,679.5 L529.5,679.5 L532.5,681.5 L532.5,683.5 L529.5,685.5 L522.5,685.5 L519.5,683.5" stroke-width="1" fill="none" stroke-linejoin="round" stroke-linecap="square"/>
<path d="M521.5,757.5 L519.5,755.5 L532.5,755.5 M519.5,749.5 L519.5,746.5 L521.5,745.5 L523.5,745.5 L525.5,746.5 L525.5,749.5 L523.5,750.5 L521.5,750.5 L519.5,749.5 M525.5,749.5 L527.5,750.5 L530.5,750.5 L532.5,749.5 L532.5,746.5 L530.5,744.5 L527.5,744.5 L525.5,746.5 M519.5,741.5 L519.5,739.5 L522.5,737.5 L529.5,737.5 L532.5,739.5 L532.5,741.5 L529.5,743.5 L522.5,743.5 L519.5,741.5 M519.5,734.5 L519.5,731.5 L522.5,730.5 L529.5,730.5 L532.5,731.5 L532.5,734.5 L529.5,736.5 L522.5,736.5 L519.5,734.5" stroke-width="1" fill="none" stroke-linejoin="round" stroke-linecap="square"/>
<path d="M532.5,819.5 L519.5,819.5 L528.5,823.5 L528.5,817.5 M519.5,810.5 L519.5,815.5 L524.5,815.5 L523.5,814.5 L523.5,811.5 L526.5,810.5 L529.5,810.5 L532.5,811.5 L532.5,814.5 L530.5,816.5 M519.5,806.5 L519.5,804.5 L522.5,802.5 L529.5,802.5 L532.5,804.5 L532.5,806.5 L529.5,808.5 L522.5,808.5 L519.5,806.5" stroke-width="1" fill="none" stroke-linejoin="round" stroke-linecap="square"/>
<line x1="571.6" y1="612.2" x2="571.6" y2="798.5" stroke-width="1"/>
<line x1="592.5" y1="612.2" x2="592.5" y2="798.5" stroke-width="1"/>
<line x1="569.4" y1="614.4" x2="573.8" y2="610" stroke-width="1.6"/>
<line x1="569.4" y1="663.2" x2="573.8" y2="658.8" stroke-width="1.6"/>
<line x1="569.4" y1="782.5" x2="573.8" y2="778.1" stroke-width="1.6"/>
<line x1="569.4" y1="800.7" x2="573.8" y2="796.3" stroke-width="1.6"/>
<line x1="590.3" y1="614.4" x2="594.7" y2="610" stroke-width="1.6"/>
<line x1="590.3" y1="782.5" x2="594.7" y2="778.1" stroke-width="1.6"/>
<line x1="590.3" y1="800.7" x2="594.7" y2="796.3" stroke-width="1.6"/>
<path d="M557.5,650.5 L554.5,647.5 L567.5,647.5 M557.5,643.5 L554.5,641.5 L554.5,638.5 L557.5,637.5 L559.5,637.5 L567.5,643.5 L567.5,637.5 M567.5,631.5 L554.5,631.5 L563.5,635.5 L563.5,629.5 M554.5,626.5 L554.5,624.5 L557.5,622.5 L564.5,622.5 L567.5,624.5 L567.5,626.5 L564.5,628.5 L557.5,628.5 L554.5,626.5" stroke-width="1" fill="none" stroke-linejoin="round" stroke-linecap="square"/>
<path d="M554.5,735.5 L554.5,729.5 L559.5,733.5 L559.5,731.5 L561.5,729.5 L564.5,729.5 L567.5,731.5 L567.5,734.5 L565.5,735.5 M554.5,726.5 L554.5,723.5 L557.5,721.5 L564.5,721.5 L567.5,723.5 L567.5,726.5 L564.5,727.5 L557.5,727.5 L554.5,726.5 M554.5,717.5 L554.5,715.5 L557.5,713.5 L564.5,713.5 L567.5,715.5 L567.5,717.5 L564.5,719.5 L557.5,719.5 L554.5,717.5 M554.5,709.5 L554.5,707.5 L557.5,705.5 L564.5,705.5 L567.5,707.5 L567.5,709.5 L564.5,711.5 L557.5,711.5 L554.5,709.5" stroke-width="1" fill="none" stroke-linejoin="round" stroke-linecap="square"/>
<path d="M588.5,714.5 L576.5,714.5 L584.5,719.5 L584.5,713.5 M577.5,706.5 L576.5,707.5 L576.5,709.5 L579.5,711.5 L585.5,711.5 L588.5,709.5 L588.5,707.5 L585.5,705.5 L583.5,705.5 L581.5,707.5 L581.5,709.5 L583.5,711.5 M587.5,703.5 L588.5,702.5 L588.5,699.5 L585.5,697.5 L578.5,697.5 L576.5,699.5 L576.5,702.5 L578.5,703.5 L580.5,703.5 L583.5,702.5 L583.5,699.5 L580.5,697.5 M576.5,694.5 L576.5,691.5 L578.5,690.5 L585.5,690.5 L588.5,691.5 L588.5,694.5 L585.5,696.5 L578.5,696.5 L576.5,694.5" stroke-width="1" fill="none" stroke-linejoin="round" stroke-linecap="square"/>
<path d="M566.5,819.5 L554.5,819.5 L563.5,823.5 L563.5,817.5 M554.5,810.5 L554.5,815.5 L559.5,815.5 L558.5,814.5 L558.5,811.5 L561.5,810.5 L564.5,810.5 L566.5,811.5 L566.5,814.5 L565.5,816.5 M554.5,806.5 L554.5,804.5 L557.5,802.5 L564.5,802.5 L566.5,804.5 L566.5,806.5 L564.5,808.5 L557.5,808.5 L554.5,806.5" stroke-width="1" fill="none" stroke-linejoin="round" stroke-linecap="square"/>
<line x1="546.2" y1="612.2" x2="627" y2="612.2" stroke-width="1"/>
<line x1="483" y1="661" x2="627" y2="661" stroke-width="1"/>
<path d="M604.1,600.2 L615.7,612.2 L627.3,600.2" stroke-width="1" fill="none"/>
<line x1="603.4" y1="600.2" x2="674.5" y2="600.2" stroke-width="1"/>
<path d="M644.5,596.5 L644.5,584.5 L640.5,593.5 L646.5,593.5 M650.5,595.5 L651.5,596.5 M654.5,584.5 L656.5,584.5 L658.5,587.5 L658.5,594.5 L656.5,596.5 L654.5,596.5 L652.5,594.5 L652.5,587.5 L654.5,584.5 M660.5,595.5 L662.5,596.5 L664.5,596.5 L666.5,593.5 L666.5,587.5 L664.5,584.5 L662.5,584.5 L660.5,587.5 L660.5,589.5 L662.5,591.5 L664.5,591.5 L666.5,589.5 M669.5,584.5 L672.5,584.5 L674.5,587.5 L674.5,594.5 L672.5,596.5 L669.5,596.5 L668.5,594.5 L668.5,587.5 L669.5,584.5" stroke-width="1" fill="none" stroke-linejoin="round" stroke-linecap="square"/>
<path d="M604.1,649.6 L615.7,661 L627.3,649.6" stroke-width="1" fill="none"/>
<line x1="603.4" y1="649.6" x2="674.5" y2="649.6" stroke-width="1"/>
<path d="M640.5,636.5 L641.5,633.5 L644.5,633.5 L646.5,636.5 L646.5,638.5 L640.5,645.5 L646.5,645.5 M650.5,644.5 L651.5,645.5 M654.5,633.5 L656.5,633.5 L658.5,635.5 L658.5,637.5 L656.5,639.5 L654.5,639.5 L653.5,637.5 L653.5,635.5 L654.5,633.5 M654.5,639.5 L652.5,641.5 L652.5,643.5 L654.5,645.5 L656.5,645.5 L658.5,643.5 L658.5,641.5 L656.5,639.5 M666.5,633.5 L660.5,633.5 L660.5,638.5 L662.5,638.5 L664.5,638.5 L666.5,640.5 L666.5,643.5 L664.5,645.5 L661.5,645.5 L660.5,643.5 M669.5,633.5 L672.5,633.5 L674.5,636.5 L674.5,643.5 L672.5,645.5 L669.5,645.5 L668.5,643.5 L668.5,636.5 L669.5,633.5" stroke-width="1" fill="none" stroke-linejoin="round" stroke-linecap="square"/>
<path d="M603.8,768.5 L615.4,780.3 L627,768.5" stroke-width="1" fill="none"/>
<line x1="603.8" y1="768.5" x2="674.6" y2="768.5" stroke-width="1"/>
<path d="M631.5,759.5 L638.5,759.5 M644.5,752.5 L646.5,752.5 L648.5,754.5 L648.5,762.5 L646.5,764.5 L644.5,764.5 L642.5,762.5 L642.5,754.5 L644.5,752.5 M652.5,762.5 L653.5,764.5 M656.5,754.5 L658.5,752.5 L658.5,764.5 M668.5,752.5 L663.5,752.5 L662.5,757.5 L664.5,756.5 L666.5,756.5 L668.5,759.5 L668.5,762.5 L667.5,764.5 L664.5,764.5 L662.5,762.5 M672.5,752.5 L674.5,752.5 L676.5,754.5 L676.5,762.5 L674.5,764.5 L672.5,764.5 L670.5,762.5 L670.5,754.5 L672.5,752.5" stroke-width="1" fill="none" stroke-linejoin="round" stroke-linecap="square"/>
<path d="M603.8,810 L615.4,798.5 L627,810" stroke-width="1" fill="none"/>
<line x1="603.8" y1="810" x2="674.6" y2="810" stroke-width="1"/>
<path d="M631.5,822.5 L638.5,822.5 M644.5,816.5 L646.5,816.5 L648.5,818.5 L648.5,825.5 L646.5,828.5 L644.5,828.5 L642.5,825.5 L642.5,818.5 L644.5,816.5 M652.5,826.5 L653.5,828.5 M660.5,817.5 L659.5,816.5 L656.5,816.5 L655.5,819.5 L655.5,825.5 L656.5,828.5 L659.5,828.5 L661.5,825.5 L661.5,823.5 L659.5,821.5 L656.5,821.5 L655.5,823.5 M664.5,816.5 L666.5,816.5 L668.5,818.5 L668.5,825.5 L666.5,828.5 L664.5,828.5 L662.5,825.5 L662.5,818.5 L664.5,816.5 M672.5,816.5 L674.5,816.5 L676.5,818.5 L676.5,825.5 L674.5,828.5 L672.5,828.5 L670.5,825.5 L670.5,818.5 L672.5,816.5" stroke-width="1" fill="none" stroke-linejoin="round" stroke-linecap="square"/>
<path d="M749.9,613 L761.5,625 L773.1,613" stroke-width="1" fill="none"/>
<line x1="702" y1="613" x2="773.8" y2="613" stroke-width="1"/>
<path d="M702.5,597.5 L708.5,597.5 L704.5,602.5 L706.5,602.5 L708.5,604.5 L708.5,607.5 L706.5,609.5 L703.5,609.5 L702.5,607.5 M712.5,608.5 L712.5,609.5 M714.5,597.5 L720.5,597.5 L716.5,609.5 M727.5,599.5 L726.5,597.5 L724.5,597.5 L722.5,600.5 L722.5,607.5 L724.5,609.5 L726.5,609.5 L728.5,607.5 L728.5,604.5 L726.5,602.5 L724.5,602.5 L722.5,604.5 M731.5,597.5 L734.5,597.5 L735.5,600.5 L735.5,607.5 L734.5,609.5 L731.5,609.5 L729.5,607.5 L729.5,600.5 L731.5,597.5" stroke-width="1" fill="none" stroke-linejoin="round" stroke-linecap="square"/>
<line x1="749.2" y1="625" x2="830" y2="625" stroke-width="1"/>
<path d="M749.9,649.5 L761.5,661 L773.1,649.5" stroke-width="1" fill="none"/>
<line x1="702" y1="649.5" x2="773.8" y2="649.5" stroke-width="1"/>
<path d="M702.5,636.5 L703.5,634.5 L706.5,634.5 L708.5,636.5 L708.5,638.5 L702.5,645.5 L708.5,645.5 M712.5,644.5 L712.5,645.5 M716.5,634.5 L718.5,634.5 L720.5,635.5 L720.5,637.5 L718.5,639.5 L716.5,639.5 L714.5,637.5 L714.5,635.5 L716.5,634.5 M716.5,639.5 L714.5,641.5 L714.5,644.5 L716.5,645.5 L718.5,645.5 L720.5,644.5 L720.5,641.5 L718.5,639.5 M727.5,634.5 L722.5,634.5 L722.5,638.5 L724.5,638.5 L726.5,638.5 L728.5,640.5 L728.5,643.5 L726.5,645.5 L723.5,645.5 L722.5,644.5 M731.5,634.5 L734.5,634.5 L735.5,636.5 L735.5,643.5 L734.5,645.5 L731.5,645.5 L729.5,643.5 L729.5,636.5 L731.5,634.5" stroke-width="1" fill="none" stroke-linejoin="round" stroke-linecap="square"/>
<line x1="749.2" y1="661" x2="865" y2="661" stroke-width="1" stroke-dasharray="85 6 1.5 6"/>
<path d="M749.9,768.2 L761.5,780 L773.1,768.2" stroke-width="1" fill="none"/>
<line x1="702.3" y1="768.2" x2="773.8" y2="768.2" stroke-width="1"/>
<path d="M702.5,759.5 L709.5,759.5 M715.5,752.5 L717.5,752.5 L719.5,755.5 L719.5,762.5 L717.5,764.5 L715.5,764.5 L713.5,762.5 L713.5,755.5 L715.5,752.5 M723.5,763.5 L724.5,764.5 M726.5,755.5 L729.5,752.5 L729.5,764.5 M739.5,752.5 L733.5,752.5 L733.5,757.5 L735.5,757.5 L737.5,757.5 L739.5,759.5 L739.5,762.5 L738.5,764.5 L734.5,764.5 L733.5,763.5 M742.5,752.5 L745.5,752.5 L747.5,755.5 L747.5,762.5 L745.5,764.5 L742.5,764.5 L741.5,762.5 L741.5,755.5 L742.5,752.5" stroke-width="1" fill="none" stroke-linejoin="round" stroke-linecap="square"/>
<line x1="749.2" y1="780" x2="865" y2="780" stroke-width="1" stroke-dasharray="85 6 1.5 6"/>
<path d="M753.8,810 L765.4,798 L777,810" stroke-width="1" fill="none"/>
<line x1="706" y1="810" x2="777.7" y2="810" stroke-width="1"/>
<path d="M705.5,822.5 L713.5,822.5 M718.5,816.5 L721.5,816.5 L722.5,818.5 L722.5,825.5 L721.5,828.5 L718.5,828.5 L716.5,825.5 L716.5,818.5 L718.5,816.5 M727.5,826.5 L727.5,828.5 M735.5,817.5 L733.5,816.5 L731.5,816.5 L729.5,819.5 L729.5,825.5 L731.5,828.5 L733.5,828.5 L735.5,825.5 L735.5,823.5 L733.5,821.5 L731.5,821.5 L729.5,823.5 M738.5,816.5 L741.5,816.5 L743.5,818.5 L743.5,825.5 L741.5,828.5 L738.5,828.5 L737.5,825.5 L737.5,818.5 L738.5,816.5 M746.5,816.5 L748.5,816.5 L750.5,818.5 L750.5,825.5 L748.5,828.5 L746.5,828.5 L744.5,825.5 L744.5,818.5 L746.5,816.5" stroke-width="1" fill="none" stroke-linejoin="round" stroke-linecap="square"/>
<line x1="753.8" y1="798" x2="830" y2="798" stroke-width="1"/>
<line x1="785.7" y1="625" x2="785.7" y2="798" stroke-width="1"/>
<line x1="805.4" y1="625" x2="805.4" y2="798" stroke-width="1"/>
<line x1="783.5" y1="627.2" x2="787.9" y2="622.8" stroke-width="1.6"/>
<line x1="783.5" y1="782.2" x2="787.9" y2="777.8" stroke-width="1.6"/>
<line x1="783.5" y1="800.2" x2="787.9" y2="795.8" stroke-width="1.6"/>
<line x1="803.2" y1="627.2" x2="807.6" y2="622.8" stroke-width="1.6"/>
<line x1="803.2" y1="663.2" x2="807.6" y2="658.8" stroke-width="1.6"/>
<line x1="803.2" y1="782.2" x2="807.6" y2="777.8" stroke-width="1.6"/>
<line x1="803.2" y1="800.2" x2="807.6" y2="795.8" stroke-width="1.6"/>
<path d="M800.5,652.5 L801.5,651.5 L801.5,648.5 L798.5,646.5 L791.5,646.5 L788.5,648.5 L788.5,651.5 L791.5,652.5 L793.5,652.5 L796.5,651.5 L796.5,648.5 L793.5,646.5 M791.5,645.5 L788.5,642.5 L801.5,642.5 M788.5,637.5 L788.5,634.5 L791.5,632.5 L798.5,632.5 L801.5,634.5 L801.5,637.5 L798.5,638.5 L791.5,638.5 L788.5,637.5" stroke-width="1" fill="none" stroke-linejoin="round" stroke-linecap="square"/>
<path d="M780.5,722.5 L768.5,722.5 L776.5,726.5 L776.5,720.5 M768.5,718.5 L768.5,712.5 L773.5,716.5 L773.5,714.5 L775.5,712.5 L778.5,712.5 L780.5,714.5 L780.5,717.5 L778.5,718.5 M769.5,705.5 L768.5,706.5 L768.5,709.5 L771.5,710.5 L778.5,710.5 L780.5,709.5 L780.5,706.5 L778.5,704.5 L775.5,704.5 L773.5,706.5 L773.5,709.5 L775.5,710.5 M768.5,701.5 L768.5,698.5 L770.5,696.5 L778.5,696.5 L780.5,698.5 L780.5,701.5 L778.5,702.5 L770.5,702.5 L768.5,701.5" stroke-width="1" fill="none" stroke-linejoin="round" stroke-linecap="square"/>
<path d="M788.5,735.5 L788.5,729.5 L793.5,732.5 L793.5,731.5 L796.5,729.5 L799.5,729.5 L801.5,730.5 L801.5,733.5 L799.5,735.5 M788.5,725.5 L788.5,723.5 L791.5,721.5 L798.5,721.5 L801.5,723.5 L801.5,725.5 L798.5,727.5 L791.5,727.5 L788.5,725.5 M788.5,717.5 L788.5,715.5 L791.5,713.5 L798.5,713.5 L801.5,715.5 L801.5,717.5 L798.5,719.5 L791.5,719.5 L788.5,717.5 M788.5,709.5 L788.5,707.5 L791.5,705.5 L798.5,705.5 L801.5,707.5 L801.5,709.5 L798.5,711.5 L791.5,711.5 L788.5,709.5" stroke-width="1" fill="none" stroke-linejoin="round" stroke-linecap="square"/>
<path d="M790.5,798.5 L787.5,795.5 L800.5,795.5 M787.5,785.5 L787.5,790.5 L793.5,791.5 L792.5,789.5 L792.5,787.5 L794.5,785.5 L797.5,785.5 L800.5,786.5 L800.5,789.5 L798.5,791.5 M787.5,781.5 L787.5,779.5 L790.5,777.5 L797.5,777.5 L800.5,779.5 L800.5,781.5 L797.5,783.5 L790.5,783.5 L787.5,781.5" stroke-width="1" fill="none" stroke-linejoin="round" stroke-linecap="square"/>
<rect x="865" y="659.5" width="10.8" height="29.4" fill="#000" stroke="none"/>
<rect x="1008.3" y="659.5" width="10.2" height="29.4" fill="#000" stroke="none"/>
<line x1="865" y1="688.9" x2="865" y2="780" stroke-width="1"/>
<line x1="875.8" y1="688.9" x2="875.8" y2="780" stroke-width="1"/>
<line x1="1008.3" y1="688.9" x2="1008.3" y2="780" stroke-width="1"/>
<line x1="1018.5" y1="688.9" x2="1018.5" y2="786.2" stroke-width="1"/>
<line x1="870.4" y1="688.9" x2="870.4" y2="847.6" stroke-width="1" stroke-dasharray="45 4 1.5 4"/>
<line x1="1013.7" y1="688.9" x2="1013.7" y2="847.6" stroke-width="1" stroke-dasharray="45 4 1.5 4"/>
<path d="M866,661 Q905,645 937,625.6" stroke-width="3.4" fill="none"/>
<path d="M1017.5,661 Q979,645 947,625.6" stroke-width="3.4" fill="none"/>
<path d="M846.2,658.7 L862,658.7 Q900,642 931,624 Q941.8,617.5 952.6,624 Q984,642 1021.5,658.7 L1037.4,658.7" stroke-width="1" fill="none"/>
<rect x="936.4" y="625.6" width="10.8" height="12.1" fill="#000" stroke="none"/>
<line x1="875.8" y1="661" x2="1008.3" y2="661" stroke-width="1" stroke-dasharray="60 6 1.5 6"/>
<line x1="1018.5" y1="661" x2="1043.8" y2="661" stroke-width="1" stroke-dasharray="20 5 1.5 5"/>
<line x1="1043.8" y1="661.2" x2="1134.6" y2="661.2" stroke-width="1"/>
<line x1="865" y1="780" x2="1018.5" y2="780" stroke-width="1"/>
<line x1="1018.5" y1="780" x2="1134.6" y2="780" stroke-width="1" stroke-dasharray="40 6 1.5 6"/>
<path d="M804.6,798 L864.6,780" stroke-width="1" fill="none"/>
<line x1="1018.5" y1="786.2" x2="1134.6" y2="786.2" stroke-width="1"/>
<path d="M865,662 L860,663 L865,679" stroke-width="0.9" fill="none"/>
<path d="M1018.5,662 L1023.5,663 L1018.5,679" stroke-width="0.9" fill="none"/>
<line x1="870.4" y1="652" x2="870.4" y2="665" stroke-width="1"/>
<line x1="870.4" y1="829.5" x2="1013.7" y2="829.5" stroke-width="1"/>
<line x1="868.2" y1="831.7" x2="872.6" y2="827.3" stroke-width="1.6"/>
<line x1="1011.5" y1="831.7" x2="1015.9" y2="827.3" stroke-width="1.6"/>
<path d="M926.5,814.5 L932.5,814.5 L929.5,818.5 L931.5,818.5 L932.5,820.5 L932.5,823.5 L931.5,825.5 L928.5,825.5 L926.5,823.5 M940.5,815.5 L938.5,814.5 L936.5,814.5 L934.5,816.5 L934.5,822.5 L936.5,825.5 L938.5,825.5 L940.5,822.5 L940.5,820.5 L938.5,818.5 L936.5,818.5 L934.5,820.5 M944.5,814.5 L946.5,814.5 L948.5,816.5 L948.5,822.5 L946.5,825.5 L944.5,825.5 L942.5,822.5 L942.5,816.5 L944.5,814.5 M952.5,814.5 L954.5,814.5 L956.5,816.5 L956.5,822.5 L954.5,825.5 L952.5,825.5 L950.5,822.5 L950.5,816.5 L952.5,814.5" stroke-width="1" fill="none" stroke-linejoin="round" stroke-linecap="square"/>
<circle cx="870.4" cy="862.7" r="15" fill="none" stroke-width="1"/>
<text x="870.4" y="862.7" font-size="25" text-anchor="middle" dominant-baseline="central" class="ser">P</text>
<circle cx="1013.7" cy="862.7" r="15" fill="none" stroke-width="1"/>
<text x="1013.7" y="862.7" font-size="25" text-anchor="middle" dominant-baseline="central" class="ser">N</text>
<line x1="1050" y1="625" x2="1134.6" y2="625" stroke-width="1"/>
<line x1="1078.5" y1="625" x2="1078.5" y2="786.2" stroke-width="1"/>
<line x1="1098.5" y1="625" x2="1098.5" y2="786.2" stroke-width="1"/>
<line x1="1076.3" y1="627.2" x2="1080.7" y2="622.8" stroke-width="1.6"/>
<line x1="1076.3" y1="663.4" x2="1080.7" y2="659" stroke-width="1.6"/>
<line x1="1076.3" y1="782.2" x2="1080.7" y2="777.8" stroke-width="1.6"/>
<line x1="1076.3" y1="788.4" x2="1080.7" y2="784" stroke-width="1.6"/>
<line x1="1096.3" y1="627.2" x2="1100.7" y2="622.8" stroke-width="1.6"/>
<line x1="1096.3" y1="788.4" x2="1100.7" y2="784" stroke-width="1.6"/>
<path d="M1071.5,653.5 L1073.5,652.5 L1073.5,649.5 L1070.5,647.5 L1063.5,647.5 L1060.5,649.5 L1060.5,652.5 L1063.5,653.5 L1065.5,653.5 L1067.5,652.5 L1067.5,649.5 L1065.5,647.5 M1063.5,645.5 L1060.5,643.5 L1073.5,643.5 M1060.5,637.5 L1060.5,634.5 L1063.5,632.5 L1070.5,632.5 L1073.5,634.5 L1073.5,637.5 L1070.5,638.5 L1063.5,638.5 L1060.5,637.5" stroke-width="1" fill="none" stroke-linejoin="round" stroke-linecap="square"/>
<path d="M1060.5,735.5 L1060.5,729.5 L1065.5,732.5 L1065.5,731.5 L1067.5,729.5 L1070.5,729.5 L1073.5,730.5 L1073.5,733.5 L1071.5,735.5 M1060.5,725.5 L1060.5,723.5 L1063.5,721.5 L1070.5,721.5 L1073.5,723.5 L1073.5,725.5 L1070.5,727.5 L1063.5,727.5 L1060.5,725.5 M1060.5,718.5 L1060.5,715.5 L1063.5,713.5 L1070.5,713.5 L1073.5,715.5 L1073.5,718.5 L1070.5,719.5 L1063.5,719.5 L1060.5,718.5 M1060.5,710.5 L1060.5,707.5 L1063.5,706.5 L1070.5,706.5 L1073.5,707.5 L1073.5,710.5 L1070.5,712.5 L1063.5,712.5 L1060.5,710.5" stroke-width="1" fill="none" stroke-linejoin="round" stroke-linecap="square"/>
<path d="M1093.5,716.5 L1081.5,716.5 L1090.5,720.5 L1090.5,714.5 M1081.5,710.5 L1081.5,708.5 L1083.5,706.5 L1091.5,706.5 L1093.5,708.5 L1093.5,710.5 L1091.5,712.5 L1083.5,712.5 L1081.5,710.5 M1082.5,699.5 L1081.5,700.5 L1081.5,702.5 L1084.5,704.5 L1091.5,704.5 L1093.5,702.5 L1093.5,700.5 L1091.5,698.5 L1088.5,698.5 L1086.5,700.5 L1086.5,702.5 L1088.5,704.5 M1081.5,694.5 L1081.5,692.5 L1083.5,690.5 L1091.5,690.5 L1093.5,692.5 L1093.5,694.5 L1091.5,696.5 L1083.5,696.5 L1081.5,694.5" stroke-width="1" fill="none" stroke-linejoin="round" stroke-linecap="square"/>
<path d="M1063.5,792.5 L1060.5,789.5 L1073.5,789.5 M1060.5,780.5 L1060.5,785.5 L1066.5,785.5 L1065.5,784.5 L1065.5,781.5 L1067.5,780.5 L1070.5,780.5 L1073.5,781.5 L1073.5,784.5 L1071.5,786.5 M1060.5,777.5 L1060.5,774.5 L1063.5,772.5 L1070.5,772.5 L1073.5,774.5 L1073.5,777.5 L1070.5,778.5 L1063.5,778.5 L1060.5,777.5" stroke-width="1" fill="none" stroke-linejoin="round" stroke-linecap="square"/>
<path d="M1110.7,613 L1122.3,625 L1133.9,613" stroke-width="1" fill="none"/>
<line x1="1110" y1="613" x2="1181.5" y2="613" stroke-width="1"/>
<path d="M1146.5,597.5 L1152.5,597.5 L1148.5,602.5 L1150.5,602.5 L1152.5,604.5 L1152.5,607.5 L1150.5,609.5 L1147.5,609.5 L1146.5,607.5 M1156.5,608.5 L1156.5,609.5 M1158.5,597.5 L1164.5,597.5 L1160.5,609.5 M1171.5,599.5 L1170.5,597.5 L1168.5,597.5 L1166.5,600.5 L1166.5,607.5 L1168.5,609.5 L1170.5,609.5 L1172.5,607.5 L1172.5,604.5 L1170.5,602.5 L1168.5,602.5 L1166.5,604.5 M1175.5,597.5 L1178.5,597.5 L1179.5,600.5 L1179.5,607.5 L1178.5,609.5 L1175.5,609.5 L1173.5,607.5 L1173.5,600.5 L1175.5,597.5" stroke-width="1" fill="none" stroke-linejoin="round" stroke-linecap="square"/>
<path d="M1110.7,673 L1122.3,661.2 L1133.9,673" stroke-width="1" fill="none"/>
<line x1="1110" y1="673" x2="1181.5" y2="673" stroke-width="1"/>
<path d="M1146.5,682.5 L1147.5,680.5 L1150.5,680.5 L1152.5,682.5 L1152.5,684.5 L1146.5,692.5 L1152.5,692.5 M1156.5,690.5 L1156.5,692.5 M1160.5,680.5 L1162.5,680.5 L1164.5,681.5 L1164.5,683.5 L1162.5,685.5 L1160.5,685.5 L1158.5,683.5 L1158.5,681.5 L1160.5,680.5 M1160.5,685.5 L1158.5,687.5 L1158.5,690.5 L1160.5,692.5 L1162.5,692.5 L1164.5,690.5 L1164.5,687.5 L1162.5,685.5 M1171.5,680.5 L1166.5,680.5 L1166.5,685.5 L1168.5,684.5 L1170.5,684.5 L1172.5,686.5 L1172.5,689.5 L1170.5,692.5 L1167.5,692.5 L1166.5,690.5 M1175.5,680.5 L1178.5,680.5 L1179.5,682.5 L1179.5,689.5 L1178.5,692.5 L1175.5,692.5 L1173.5,689.5 L1173.5,682.5 L1175.5,680.5" stroke-width="1" fill="none" stroke-linejoin="round" stroke-linecap="square"/>
<path d="M1110.7,768.2 L1122.3,780 L1133.9,768.2" stroke-width="1" fill="none"/>
<line x1="1110" y1="768.2" x2="1181.5" y2="768.2" stroke-width="1"/>
<path d="M1138.5,759.5 L1146.5,759.5 M1151.5,753.5 L1153.5,753.5 L1155.5,755.5 L1155.5,762.5 L1153.5,764.5 L1151.5,764.5 L1149.5,762.5 L1149.5,755.5 L1151.5,753.5 M1159.5,763.5 L1160.5,764.5 M1162.5,755.5 L1165.5,753.5 L1165.5,764.5 M1175.5,753.5 L1170.5,753.5 L1169.5,758.5 L1171.5,757.5 L1173.5,757.5 L1175.5,759.5 L1175.5,762.5 L1174.5,764.5 L1171.5,764.5 L1169.5,763.5 M1179.5,753.5 L1181.5,753.5 L1183.5,755.5 L1183.5,762.5 L1181.5,764.5 L1179.5,764.5 L1177.5,762.5 L1177.5,755.5 L1179.5,753.5" stroke-width="1" fill="none" stroke-linejoin="round" stroke-linecap="square"/>
<path d="M1110.7,798 L1122.3,786.2 L1133.9,798" stroke-width="1" fill="none"/>
<line x1="1110" y1="798" x2="1181.5" y2="798" stroke-width="1"/>
<path d="M1135.5,811.5 L1143.5,811.5 M1148.5,804.5 L1151.5,804.5 L1152.5,807.5 L1152.5,814.5 L1151.5,816.5 L1148.5,816.5 L1146.5,814.5 L1146.5,807.5 L1148.5,804.5 M1157.5,815.5 L1157.5,816.5 M1159.5,804.5 L1165.5,804.5 L1162.5,809.5 L1163.5,809.5 L1165.5,811.5 L1165.5,814.5 L1164.5,816.5 L1161.5,816.5 L1159.5,814.5 M1168.5,804.5 L1171.5,804.5 L1173.5,807.5 L1173.5,814.5 L1171.5,816.5 L1168.5,816.5 L1167.5,814.5 L1167.5,807.5 L1168.5,804.5 M1176.5,804.5 L1178.5,804.5 L1180.5,807.5 L1180.5,814.5 L1178.5,816.5 L1176.5,816.5 L1174.5,814.5 L1174.5,807.5 L1176.5,804.5" stroke-width="1" fill="none" stroke-linejoin="round" stroke-linecap="square"/>
<path d="M1237.9,649.2 L1249.5,661 L1261.1,649.2" stroke-width="1" fill="none"/>
<line x1="1190" y1="649.2" x2="1261.5" y2="649.2" stroke-width="1"/>
<path d="M1190.5,636.5 L1191.5,634.5 L1194.5,634.5 L1196.5,636.5 L1196.5,638.5 L1190.5,645.5 L1196.5,645.5 M1200.5,644.5 L1200.5,645.5 M1204.5,634.5 L1206.5,634.5 L1208.5,635.5 L1208.5,637.5 L1206.5,639.5 L1204.5,639.5 L1202.5,637.5 L1202.5,635.5 L1204.5,634.5 M1204.5,639.5 L1202.5,641.5 L1202.5,644.5 L1204.5,645.5 L1206.5,645.5 L1208.5,644.5 L1208.5,641.5 L1206.5,639.5 M1215.5,634.5 L1210.5,634.5 L1210.5,638.5 L1212.5,638.5 L1214.5,638.5 L1216.5,640.5 L1216.5,643.5 L1214.5,645.5 L1211.5,645.5 L1210.5,644.5 M1219.5,634.5 L1222.5,634.5 L1223.5,636.5 L1223.5,643.5 L1222.5,645.5 L1219.5,645.5 L1217.5,643.5 L1217.5,636.5 L1219.5,634.5" stroke-width="1" fill="none" stroke-linejoin="round" stroke-linecap="square"/>
<line x1="1237" y1="661" x2="1362.3" y2="661" stroke-width="1" stroke-dasharray="80 6 1.5 6"/>
<path d="M1238,768.4 L1249.6,780.1 L1261.2,768.4" stroke-width="1" fill="none"/>
<line x1="1190.4" y1="768.4" x2="1261.4" y2="768.4" stroke-width="1"/>
<path d="M1190.5,758.5 L1197.5,758.5 M1203.5,752.5 L1205.5,752.5 L1207.5,754.5 L1207.5,761.5 L1205.5,764.5 L1203.5,764.5 L1201.5,761.5 L1201.5,754.5 L1203.5,752.5 M1211.5,762.5 L1212.5,764.5 M1214.5,754.5 L1217.5,752.5 L1217.5,764.5 M1227.5,752.5 L1222.5,752.5 L1221.5,757.5 L1223.5,756.5 L1225.5,756.5 L1227.5,758.5 L1227.5,761.5 L1226.5,764.5 L1223.5,764.5 L1221.5,762.5 M1230.5,752.5 L1233.5,752.5 L1235.5,754.5 L1235.5,761.5 L1233.5,764.5 L1230.5,764.5 L1229.5,761.5 L1229.5,754.5 L1230.5,752.5" stroke-width="1" fill="none" stroke-linejoin="round" stroke-linecap="square"/>
<line x1="1237" y1="780.1" x2="1362.6" y2="780.1" stroke-width="1" stroke-dasharray="50 6 1.5 6"/>
<path d="M1238,810 L1249.6,798.3 L1261.2,810" stroke-width="1" fill="none"/>
<line x1="1190.4" y1="810" x2="1261.4" y2="810" stroke-width="1"/>
<path d="M1190.5,823.5 L1197.5,823.5 M1203.5,816.5 L1205.5,816.5 L1207.5,819.5 L1207.5,826.5 L1205.5,828.5 L1203.5,828.5 L1201.5,826.5 L1201.5,819.5 L1203.5,816.5 M1211.5,827.5 L1212.5,828.5 M1214.5,816.5 L1220.5,816.5 L1216.5,828.5 M1227.5,816.5 L1222.5,816.5 L1221.5,821.5 L1223.5,821.5 L1225.5,821.5 L1227.5,823.5 L1227.5,826.5 L1226.5,828.5 L1223.5,828.5 L1221.5,827.5 M1230.5,816.5 L1233.5,816.5 L1235.5,819.5 L1235.5,826.5 L1233.5,828.5 L1230.5,828.5 L1229.5,826.5 L1229.5,819.5 L1230.5,816.5" stroke-width="1" fill="none" stroke-linejoin="round" stroke-linecap="square"/>
<line x1="1237" y1="798.3" x2="1362.6" y2="798.3" stroke-width="1"/>
<line x1="1272.6" y1="661" x2="1272.6" y2="798.3" stroke-width="1"/>
<line x1="1293.4" y1="661" x2="1293.4" y2="798.3" stroke-width="1"/>
<line x1="1316.7" y1="625.4" x2="1316.7" y2="798.3" stroke-width="1"/>
<line x1="1270.4" y1="663.2" x2="1274.8" y2="658.8" stroke-width="1.6"/>
<line x1="1270.4" y1="800.5" x2="1274.8" y2="796.1" stroke-width="1.6"/>
<line x1="1291.2" y1="663.2" x2="1295.6" y2="658.8" stroke-width="1.6"/>
<line x1="1291.2" y1="782.3" x2="1295.6" y2="777.9" stroke-width="1.6"/>
<line x1="1291.2" y1="800.5" x2="1295.6" y2="796.1" stroke-width="1.6"/>
<line x1="1314.5" y1="627.6" x2="1318.9" y2="623.2" stroke-width="1.6"/>
<line x1="1314.5" y1="663.2" x2="1318.9" y2="658.8" stroke-width="1.6"/>
<line x1="1314.5" y1="687.6" x2="1318.9" y2="683.2" stroke-width="1.6"/>
<line x1="1314.5" y1="722.6" x2="1318.9" y2="718.2" stroke-width="1.6"/>
<line x1="1314.5" y1="782.3" x2="1318.9" y2="777.9" stroke-width="1.6"/>
<line x1="1314.5" y1="800.5" x2="1318.9" y2="796.1" stroke-width="1.6"/>
<line x1="1306" y1="625.4" x2="1344.6" y2="625.4" stroke-width="1"/>
<line x1="1306" y1="685.4" x2="1344.6" y2="685.4" stroke-width="1"/>
<line x1="1306.4" y1="720.4" x2="1344.4" y2="720.4" stroke-width="1"/>
<path d="M1256.5,744.5 L1256.5,738.5 L1260.5,742.5 L1260.5,740.5 L1263.5,738.5 L1266.5,738.5 L1268.5,740.5 L1268.5,743.5 L1266.5,744.5 M1268.5,732.5 L1256.5,732.5 L1264.5,736.5 L1264.5,730.5 M1256.5,723.5 L1256.5,728.5 L1261.5,728.5 L1260.5,726.5 L1260.5,724.5 L1262.5,722.5 L1266.5,722.5 L1268.5,724.5 L1268.5,727.5 L1266.5,728.5 M1256.5,718.5 L1256.5,716.5 L1258.5,714.5 L1265.5,714.5 L1268.5,716.5 L1268.5,718.5 L1265.5,720.5 L1258.5,720.5 L1256.5,718.5" stroke-width="1" fill="none" stroke-linejoin="round" stroke-linecap="square"/>
<path d="M1276.5,735.5 L1276.5,729.5 L1281.5,732.5 L1281.5,731.5 L1283.5,729.5 L1286.5,729.5 L1289.5,730.5 L1289.5,734.5 L1287.5,735.5 M1276.5,725.5 L1276.5,723.5 L1279.5,721.5 L1286.5,721.5 L1289.5,723.5 L1289.5,725.5 L1286.5,727.5 L1279.5,727.5 L1276.5,725.5 M1276.5,717.5 L1276.5,715.5 L1279.5,713.5 L1286.5,713.5 L1289.5,715.5 L1289.5,717.5 L1286.5,719.5 L1279.5,719.5 L1276.5,717.5 M1276.5,709.5 L1276.5,706.5 L1279.5,705.5 L1286.5,705.5 L1289.5,706.5 L1289.5,709.5 L1286.5,711.5 L1279.5,711.5 L1276.5,709.5" stroke-width="1" fill="none" stroke-linejoin="round" stroke-linecap="square"/>
<path d="M1289.5,819.5 L1276.5,819.5 L1285.5,823.5 L1285.5,817.5 M1276.5,810.5 L1276.5,815.5 L1282.5,815.5 L1281.5,814.5 L1281.5,811.5 L1283.5,809.5 L1286.5,809.5 L1289.5,811.5 L1289.5,814.5 L1287.5,815.5 M1276.5,806.5 L1276.5,803.5 L1279.5,802.5 L1286.5,802.5 L1289.5,803.5 L1289.5,806.5 L1286.5,808.5 L1279.5,808.5 L1276.5,806.5" stroke-width="1" fill="none" stroke-linejoin="round" stroke-linecap="square"/>
<path d="M1310.5,652.5 L1311.5,651.5 L1311.5,648.5 L1308.5,646.5 L1301.5,646.5 L1299.5,648.5 L1299.5,651.5 L1301.5,652.5 L1304.5,652.5 L1306.5,651.5 L1306.5,648.5 L1304.5,646.5 M1301.5,645.5 L1299.5,642.5 L1311.5,642.5 M1299.5,637.5 L1299.5,634.5 L1301.5,632.5 L1309.5,632.5 L1311.5,634.5 L1311.5,637.5 L1309.5,638.5 L1301.5,638.5 L1299.5,637.5" stroke-width="1" fill="none" stroke-linejoin="round" stroke-linecap="square"/>
<path d="M1300.5,678.5 L1299.5,679.5 L1299.5,682.5 L1302.5,683.5 L1309.5,683.5 L1311.5,682.5 L1311.5,679.5 L1309.5,677.5 L1306.5,677.5 L1304.5,679.5 L1304.5,682.5 L1306.5,683.5 M1299.5,674.5 L1299.5,671.5 L1301.5,670.5 L1309.5,670.5 L1311.5,671.5 L1311.5,674.5 L1309.5,676.5 L1301.5,676.5 L1299.5,674.5 M1299.5,666.5 L1299.5,664.5 L1301.5,662.5 L1309.5,662.5 L1311.5,664.5 L1311.5,666.5 L1309.5,668.5 L1301.5,668.5 L1299.5,666.5" stroke-width="1" fill="none" stroke-linejoin="round" stroke-linecap="square"/>
<path d="M1310.5,713.5 L1311.5,712.5 L1311.5,709.5 L1308.5,707.5 L1301.5,707.5 L1299.5,709.5 L1299.5,712.5 L1301.5,713.5 L1304.5,713.5 L1306.5,712.5 L1306.5,709.5 L1304.5,707.5 M1299.5,704.5 L1299.5,701.5 L1301.5,700.5 L1309.5,700.5 L1311.5,701.5 L1311.5,704.5 L1309.5,706.5 L1301.5,706.5 L1299.5,704.5 M1299.5,696.5 L1299.5,694.5 L1301.5,692.5 L1309.5,692.5 L1311.5,694.5 L1311.5,696.5 L1309.5,698.5 L1301.5,698.5 L1299.5,696.5" stroke-width="1" fill="none" stroke-linejoin="round" stroke-linecap="square"/>
<path d="M1302.5,764.5 L1299.5,761.5 L1312.5,761.5 M1299.5,751.5 L1299.5,756.5 L1305.5,756.5 L1304.5,755.5 L1304.5,752.5 L1306.5,751.5 L1309.5,751.5 L1312.5,752.5 L1312.5,755.5 L1310.5,757.5 M1299.5,747.5 L1299.5,745.5 L1302.5,743.5 L1309.5,743.5 L1312.5,745.5 L1312.5,747.5 L1309.5,749.5 L1302.5,749.5 L1299.5,747.5 M1299.5,739.5 L1299.5,737.5 L1302.5,735.5 L1309.5,735.5 L1312.5,737.5 L1312.5,739.5 L1309.5,741.5 L1302.5,741.5 L1299.5,739.5" stroke-width="1" fill="none" stroke-linejoin="round" stroke-linecap="square"/>
<path d="M1312.5,806.5 L1299.5,806.5 L1308.5,810.5 L1308.5,804.5 M1299.5,797.5 L1299.5,802.5 L1305.5,802.5 L1304.5,801.5 L1304.5,798.5 L1306.5,796.5 L1309.5,796.5 L1312.5,798.5 L1312.5,801.5 L1310.5,802.5 M1299.5,793.5 L1299.5,790.5 L1302.5,788.5 L1309.5,788.5 L1312.5,790.5 L1312.5,793.5 L1309.5,794.5 L1302.5,794.5 L1299.5,793.5" stroke-width="1" fill="none" stroke-linejoin="round" stroke-linecap="square"/>
<rect x="1362.3" y="659.5" width="10" height="14.3" fill="#000" stroke="none"/>
<line x1="1362.6" y1="673.8" x2="1362.6" y2="798.3" stroke-width="1"/>
<line x1="1372.1" y1="673.8" x2="1372.1" y2="780.1" stroke-width="1"/>
<line x1="1367.5" y1="673.8" x2="1367.5" y2="847.7" stroke-width="1" stroke-dasharray="45 4 1.5 4"/>
<line x1="1365" y1="673.8" x2="1365" y2="720" stroke-width="1.3"/>
<line x1="1369.8" y1="673.8" x2="1369.8" y2="720" stroke-width="1.3"/>
<line x1="1362.6" y1="720" x2="1372.1" y2="720" stroke-width="1"/>
<circle cx="1364.3" cy="668.5" r="16" fill="none" stroke-width="1"/>
<line x1="1364.3" y1="576.2" x2="1364.3" y2="652.3" stroke-width="1"/>
<line x1="1364.3" y1="576.2" x2="1410.8" y2="576.2" stroke-width="1"/>
<circle cx="1400.3" cy="576.2" r="8.3" fill="none" stroke-width="1"/>
<path d="M1362.3,662 L1357.3,663 L1362.3,679" stroke-width="0.9" fill="none"/>
<path d="M1363,661 Q1400,645 1433,626.2" stroke-width="3.4" fill="none"/>
<path d="M1443.8,626.2 Q1478,645 1512.3,661.5" stroke-width="3.4" fill="none"/>
<path d="M1343.8,658.5 L1360,658.5 Q1395,642 1428,623.5 Q1438.4,617.5 1448.8,623.5 Q1482,642 1520,658.5" stroke-width="1" fill="none"/>
<rect x="1433" y="626" width="10.8" height="11.7" fill="#000" stroke="none"/>
<line x1="1372.3" y1="661.5" x2="1506" y2="661.5" stroke-width="1" stroke-dasharray="60 6 1.5 6"/>
<rect x="1506" y="660" width="9.4" height="17.7" fill="#000" stroke="none"/>
<rect x="1506" y="673" width="61" height="4.7" fill="#000" stroke="none"/>
<rect x="1556.2" y="639.2" width="10.8" height="8.5" fill="#000" stroke="none"/>
<rect x="1556.2" y="655.4" width="10.8" height="22.3" fill="#000" stroke="none"/>
<rect x="1556.2" y="647.7" width="10.8" height="7.7" fill="none" stroke-width="1"/>
<line x1="1515.4" y1="669.2" x2="1556.2" y2="669.2" stroke-width="1"/>
<circle cx="1539.2" cy="667.7" r="5.4" fill="none" stroke-width="1"/>
<path d="M1481.5,634.5 L1487.5,634.5 L1484.5,638.5 L1485.5,638.5 L1487.5,640.5 L1487.5,643.5 L1486.5,645.5 L1482.5,645.5 L1481.5,643.5 M1491.5,644.5 L1492.5,645.5 M1495.5,634.5 L1498.5,634.5 L1500.5,636.5 L1500.5,643.5 L1498.5,645.5 L1495.5,645.5 L1494.5,643.5 L1494.5,636.5 L1495.5,634.5 M1503.5,634.5 L1505.5,634.5 L1507.5,636.5 L1507.5,643.5 L1505.5,645.5 L1503.5,645.5 L1501.5,643.5 L1501.5,636.5 L1503.5,634.5 M1511.5,634.5 L1513.5,634.5 L1515.5,636.5 L1515.5,643.5 L1513.5,645.5 L1511.5,645.5 L1509.5,643.5 L1509.5,636.5 L1511.5,634.5" stroke-width="1" fill="none" stroke-linejoin="round" stroke-linecap="square"/>
<line x1="1490.8" y1="649" x2="1547.7" y2="649" stroke-width="1"/>
<path d="M1524.6,649 L1536.2,661 L1547.7,649" stroke-width="1" fill="none"/>
<path d="M1524.6,685 L1536.2,673.8 L1547.7,685" stroke-width="1" fill="none"/>
<line x1="1523" y1="685" x2="1594.6" y2="685" stroke-width="1"/>
<line x1="1539.2" y1="574.2" x2="1539.2" y2="660" stroke-width="1"/>
<line x1="1539.2" y1="574.2" x2="1584.6" y2="574.2" stroke-width="1"/>
<circle cx="1573.8" cy="574.2" r="8.3" fill="none" stroke-width="1"/>
<line x1="1560" y1="603.8" x2="1560" y2="639.2" stroke-width="1"/>
<line x1="1563" y1="603.8" x2="1563" y2="639.2" stroke-width="1"/>
<line x1="1560" y1="603.8" x2="1619.2" y2="603.8" stroke-width="1"/>
<line x1="1567" y1="639.2" x2="1619.2" y2="639.2" stroke-width="1"/>
<line x1="1567" y1="650.8" x2="1619.2" y2="650.8" stroke-width="1"/>
<rect x="1567" y="655.4" width="52.2" height="4" fill="#000" stroke="none"/>
<path d="M1619.5,596.5 L1619.5,687 L1627,690 L1610.6,693.8 L1619.5,697 L1619.5,787" stroke-width="1" fill="none"/>
<line x1="1510.3" y1="677.7" x2="1510.3" y2="847.7" stroke-width="1" stroke-dasharray="30 5 1.5 5"/>
<line x1="1514.3" y1="677.7" x2="1514.3" y2="780.1" stroke-width="1"/>
<line x1="1556.7" y1="677.7" x2="1556.7" y2="780.1" stroke-width="1"/>
<line x1="1566.2" y1="677.7" x2="1566.2" y2="774.4" stroke-width="1"/>
<path d="M1516.5,780 L1516.5,697.7 L1552.3,697.7 L1552.3,780" stroke-width="1" fill="none"/>
<path d="M1519.3,778.7 L1519.3,700.5 L1549.5,700.5 L1549.5,778.7 L1519.3,778.7" stroke-width="1" fill="none"/>
<line x1="1556.7" y1="774.4" x2="1619" y2="774.4" stroke-width="1"/>
<line x1="1372.1" y1="780.1" x2="1584.4" y2="780.1" stroke-width="1"/>
<line x1="1561.9" y1="677.7" x2="1561.9" y2="847.7" stroke-width="1"/>
<circle cx="1367.5" cy="862.7" r="15" fill="none" stroke-width="1"/>
<text x="1367.5" y="862.7" font-size="25" text-anchor="middle" dominant-baseline="central" class="ser">P</text>
<circle cx="1510.3" cy="862.7" r="15" fill="none" stroke-width="1"/>
<text x="1510.3" y="862.7" font-size="25" text-anchor="middle" dominant-baseline="central" class="ser">N</text>
<circle cx="1561.9" cy="862.7" r="15" fill="none" stroke-width="1"/>
<text x="1561.9" y="862.7" font-size="25" text-anchor="middle" dominant-baseline="central" class="ser">M</text>
<line x1="1367.5" y1="829" x2="1561.9" y2="829" stroke-width="1"/>
<line x1="1365.3" y1="831.2" x2="1369.7" y2="826.8" stroke-width="1.6"/>
<line x1="1508.1" y1="831.2" x2="1512.5" y2="826.8" stroke-width="1.6"/>
<line x1="1559.7" y1="831.2" x2="1564.1" y2="826.8" stroke-width="1.6"/>
<path d="M1424.5,813.5 L1429.5,813.5 L1426.5,817.5 L1428.5,817.5 L1429.5,819.5 L1429.5,822.5 L1428.5,824.5 L1425.5,824.5 L1424.5,822.5 M1437.5,814.5 L1435.5,813.5 L1433.5,813.5 L1431.5,816.5 L1431.5,822.5 L1433.5,824.5 L1435.5,824.5 L1437.5,822.5 L1437.5,820.5 L1435.5,818.5 L1433.5,818.5 L1431.5,820.5 M1441.5,813.5 L1443.5,813.5 L1445.5,815.5 L1445.5,822.5 L1443.5,824.5 L1441.5,824.5 L1439.5,822.5 L1439.5,815.5 L1441.5,813.5 M1449.5,813.5 L1451.5,813.5 L1453.5,815.5 L1453.5,822.5 L1451.5,824.5 L1449.5,824.5 L1447.5,822.5 L1447.5,815.5 L1449.5,813.5" stroke-width="1" fill="none" stroke-linejoin="round" stroke-linecap="square"/>
<path d="M1521.5,815.5 L1523.5,813.5 L1523.5,824.5 M1528.5,813.5 L1533.5,813.5 L1530.5,817.5 L1532.5,817.5 L1533.5,819.5 L1533.5,822.5 L1532.5,824.5 L1529.5,824.5 L1528.5,822.5 M1537.5,813.5 L1540.5,813.5 L1541.5,815.5 L1541.5,822.5 L1540.5,824.5 L1537.5,824.5 L1536.5,822.5 L1536.5,815.5 L1537.5,813.5 M1545.5,813.5 L1548.5,813.5 L1549.5,815.5 L1549.5,822.5 L1548.5,824.5 L1545.5,824.5 L1544.5,822.5 L1544.5,815.5 L1545.5,813.5" stroke-width="1" fill="none" stroke-linejoin="round" stroke-linecap="square"/>
<line x1="1626" y1="603.4" x2="1663.8" y2="603.4" stroke-width="1"/>
<line x1="1626" y1="655.4" x2="1706.7" y2="655.4" stroke-width="1"/>
<line x1="1626" y1="774.2" x2="1706.7" y2="774.2" stroke-width="1"/>
<line x1="1653.8" y1="603.4" x2="1653.8" y2="774.2" stroke-width="1"/>
<line x1="1676" y1="655.4" x2="1676" y2="774.2" stroke-width="1"/>
<line x1="1651.6" y1="605.6" x2="1656" y2="601.2" stroke-width="1.6"/>
<line x1="1651.6" y1="657.6" x2="1656" y2="653.2" stroke-width="1.6"/>
<line x1="1651.6" y1="776.4" x2="1656" y2="772" stroke-width="1.6"/>
<line x1="1673.8" y1="657.6" x2="1678.2" y2="653.2" stroke-width="1.6"/>
<line x1="1673.8" y1="776.4" x2="1678.2" y2="772" stroke-width="1.6"/>
<path d="M1639.5,642.5 L1636.5,640.5 L1649.5,640.5 M1636.5,636.5 L1636.5,630.5 L1641.5,633.5 L1641.5,631.5 L1644.5,630.5 L1647.5,630.5 L1649.5,631.5 L1649.5,634.5 L1647.5,636.5 M1636.5,626.5 L1636.5,624.5 L1639.5,622.5 L1646.5,622.5 L1649.5,624.5 L1649.5,626.5 L1646.5,628.5 L1639.5,628.5 L1636.5,626.5 M1636.5,619.5 L1636.5,616.5 L1639.5,614.5 L1646.5,614.5 L1649.5,616.5 L1649.5,619.5 L1646.5,620.5 L1639.5,620.5 L1636.5,619.5" stroke-width="1" fill="none" stroke-linejoin="round" stroke-linecap="square"/>
<path d="M1636.5,729.5 L1636.5,723.5 L1641.5,726.5 L1641.5,725.5 L1644.5,723.5 L1647.5,723.5 L1649.5,724.5 L1649.5,727.5 L1647.5,729.5 M1636.5,719.5 L1636.5,717.5 L1639.5,715.5 L1646.5,715.5 L1649.5,717.5 L1649.5,719.5 L1646.5,721.5 L1639.5,721.5 L1636.5,719.5 M1636.5,711.5 L1636.5,709.5 L1639.5,707.5 L1646.5,707.5 L1649.5,709.5 L1649.5,711.5 L1646.5,713.5 L1639.5,713.5 L1636.5,711.5 M1636.5,703.5 L1636.5,701.5 L1639.5,699.5 L1646.5,699.5 L1649.5,701.5 L1649.5,703.5 L1646.5,705.5 L1639.5,705.5 L1636.5,703.5" stroke-width="1" fill="none" stroke-linejoin="round" stroke-linecap="square"/>
<path d="M1658.5,729.5 L1658.5,723.5 L1663.5,726.5 L1663.5,725.5 L1666.5,723.5 L1669.5,723.5 L1671.5,724.5 L1671.5,727.5 L1669.5,729.5 M1658.5,719.5 L1658.5,717.5 L1661.5,715.5 L1668.5,715.5 L1671.5,717.5 L1671.5,719.5 L1668.5,721.5 L1661.5,721.5 L1658.5,719.5 M1658.5,711.5 L1658.5,709.5 L1661.5,707.5 L1668.5,707.5 L1671.5,709.5 L1671.5,711.5 L1668.5,713.5 L1661.5,713.5 L1658.5,711.5 M1658.5,703.5 L1658.5,701.5 L1661.5,699.5 L1668.5,699.5 L1671.5,701.5 L1671.5,703.5 L1668.5,705.5 L1661.5,705.5 L1658.5,703.5" stroke-width="1" fill="none" stroke-linejoin="round" stroke-linecap="square"/>
<path d="M1682.6,643.8 L1694.2,655.4 L1705.8,643.8" stroke-width="1" fill="none"/>
<line x1="1682.7" y1="643.8" x2="1754.8" y2="643.8" stroke-width="1"/>
<path d="M1719.5,627.5 L1725.5,627.5 L1721.5,632.5 L1723.5,632.5 L1725.5,634.5 L1725.5,637.5 L1723.5,639.5 L1720.5,639.5 L1719.5,637.5 M1729.5,638.5 L1730.5,639.5 M1733.5,627.5 L1736.5,627.5 L1737.5,630.5 L1737.5,637.5 L1736.5,639.5 L1733.5,639.5 L1731.5,637.5 L1731.5,630.5 L1733.5,627.5 M1741.5,627.5 L1743.5,627.5 L1745.5,630.5 L1745.5,637.5 L1743.5,639.5 L1741.5,639.5 L1739.5,637.5 L1739.5,630.5 L1741.5,627.5 M1748.5,627.5 L1751.5,627.5 L1752.5,630.5 L1752.5,637.5 L1751.5,639.5 L1748.5,639.5 L1746.5,637.5 L1746.5,630.5 L1748.5,627.5" stroke-width="1" fill="none" stroke-linejoin="round" stroke-linecap="square"/>
<path d="M1682.6,762.5 L1694.2,774.2 L1705.8,762.5" stroke-width="1" fill="none"/>
<line x1="1682.7" y1="762.5" x2="1754.8" y2="762.5" stroke-width="1"/>
<path d="M1712.5,746.5 L1712.5,755.5 M1709.5,751.5 L1715.5,751.5 M1709.5,758.5 L1715.5,758.5 M1722.5,746.5 L1724.5,746.5 L1726.5,749.5 L1726.5,756.5 L1724.5,758.5 L1722.5,758.5 L1720.5,756.5 L1720.5,749.5 L1722.5,746.5 M1730.5,757.5 L1731.5,758.5 M1734.5,746.5 L1737.5,746.5 L1739.5,749.5 L1739.5,756.5 L1737.5,758.5 L1734.5,758.5 L1733.5,756.5 L1733.5,749.5 L1734.5,746.5 M1742.5,746.5 L1744.5,746.5 L1746.5,749.5 L1746.5,756.5 L1744.5,758.5 L1742.5,758.5 L1740.5,756.5 L1740.5,749.5 L1742.5,746.5 M1750.5,746.5 L1752.5,746.5 L1754.5,749.5 L1754.5,756.5 L1752.5,758.5 L1750.5,758.5 L1748.5,756.5 L1748.5,749.5 L1750.5,746.5" stroke-width="1" fill="none" stroke-linejoin="round" stroke-linecap="square"/>
<path d="M558.36,273.2 L558.36,279.08 M558.36,275.16 L561.74,275.55 M560.05,275.55 L553.55,283.98 M555.76,279.08 L559.4,278.1 M559.4,277.51 L564.6,282.61 M562.26,277.12 L558.75,281.43 M552.9,287.7 L557.58,284.18 M557.58,284.18 L557.58,292.8 M557.58,284.18 L562.65,284.18 L562.65,289.27 L557.58,289.27 M557.58,286.72 L562.65,286.72 M559.66,289.66 L563.95,292.8 M562.65,284.96 L565.9,285.35" stroke-width="1.1" fill="none" stroke-linejoin="round"/>
<path d="M570.24,275.37 L580.9,274.19 M570.24,274.19 L570.24,283.6 L567.9,293.4 M572.45,279.68 L580.9,279.29 M576.74,279.68 L576.74,293.4 L574.4,289.87" stroke-width="1.1" fill="none" stroke-linejoin="round"/>
<path d="M1354.54,275.27 L1356.72,277.52 M1353.9,280.14 L1356.46,282.38 M1354.16,292.66 L1357.1,286.49 M1359.66,275.27 L1358,279.01 M1361.32,275.27 L1363.12,278.64 M1360.94,278.64 L1357.74,284.25 M1360.94,279.57 L1366.06,284.62 M1359.66,286.12 L1359.66,293.6 M1359.66,286.12 L1364.78,286.12 L1364.78,291.73 L1359.66,291.73" stroke-width="1.1" fill="none" stroke-linejoin="round"/>
<path d="M1369.55,275.35 L1371.42,277.45 M1369,280.25 L1371.2,282.35 M1369.22,291.62 L1371.75,285.85 M1372.52,282.88 L1380,279.9 L1379.45,285.15 M1375.82,275 L1375.82,287.25 M1373.62,277.1 L1373.62,290.4 L1375.05,291.62 L1380,291.62 L1380,289" stroke-width="1.1" fill="none" stroke-linejoin="round"/>
<path d="M1433.6,703 L1434.22,704.98 M1428.02,708.94 L1428.02,705.97 L1439.18,705.97 L1439.18,708.94 M1432.61,707.36 L1429.26,713.89 M1431.74,709.34 L1436.7,709.34 L1429.88,715.87 M1432.61,711.91 L1439.55,715.28 M1430.5,716.46 L1430.5,722.8 M1430.5,716.86 L1436.7,716.86 L1436.7,722.8 M1430.5,721.22 L1436.7,721.22" stroke-width="1.1" fill="none" stroke-linejoin="round"/>
<path d="M1447.88,703 L1448.56,704.52 M1442.44,705.28 L1452.64,705.28 L1452.64,708.7 L1442.44,708.7 M1442.44,705.28 L1442.44,714.4 L1440.4,722 M1448.29,709.84 L1448.83,711.36 M1443.8,712.5 L1454,712.5 M1446.93,712.5 L1446.52,716.68 L1443.8,722 M1446.52,716.3 L1452.37,716.3 L1451.96,721.05 L1449.92,722" stroke-width="1.1" fill="none" stroke-linejoin="round"/>
<path d="M1581.3,722.66 L1593,722.66 M1581.3,722.66 L1581.3,733.6 L1580,740.9 M1583.25,725.92 L1587.54,725.92 M1583.9,728.23 L1587.15,728.23 L1587.15,732.26 L1583.9,732.26 L1583.9,728.23 M1582.86,738.98 L1587.8,738.21 M1584.16,734.18 L1584.94,737.06 M1586.76,734.18 L1585.98,737.06 M1587.8,729 L1593,729 M1591.05,725.16 L1591.05,740.9 L1589.36,739.94 M1588.32,732.84 L1589.36,735.52" stroke-width="1.1" fill="none" stroke-linejoin="round"/>
<path d="M1600.15,721.7 L1600.8,723.24 M1594.95,724 L1604.7,724 L1604.7,727.46 L1594.95,727.46 M1594.95,724 L1594.95,733.22 L1593,740.9 M1600.54,728.61 L1601.06,730.15 M1596.25,731.3 L1606,731.3 M1599.24,731.3 L1598.85,735.52 L1596.25,740.9 M1598.85,735.14 L1604.44,735.14 L1604.05,739.94 L1602.1,740.9" stroke-width="1.1" fill="none" stroke-linejoin="round"/>
<path d="M1539.5,694.5 L1541.5,691.5 L1544.5,691.5 L1546.5,694.5 L1546.5,696.5 L1539.5,704.5 L1546.5,704.5 M1549.5,703.5 L1550.5,704.5 M1552.5,691.5 L1559.5,691.5 L1555.5,704.5 M1562.5,691.5 L1564.5,691.5 L1567.5,694.5 L1567.5,702.5 L1564.5,704.5 L1562.5,704.5 L1560.5,702.5 L1560.5,694.5 L1562.5,691.5 M1569.5,691.5 L1572.5,691.5 L1574.5,694.5 L1574.5,702.5 L1572.5,704.5 L1569.5,704.5 L1567.5,702.5 L1567.5,694.5 L1569.5,691.5" stroke-width="1" fill="none" stroke-linejoin="round" stroke-linecap="square"/>
<path d="M1579.5,689.5 L1576.5,695.5 L1576.5,702.5 L1579.5,708.5" stroke-width="1" fill="none" stroke-linejoin="round" stroke-linecap="square"/>
<path d="M1583.35,692 L1580.97,697.8 L1583.83,697.08 L1580.5,702.88 L1584.3,701.42 M1580.5,705.77 L1584.3,704.33 M1584.78,695.19 L1590,695.19 M1587.34,692.73 L1587.34,698.52 M1585.25,698.52 L1589.53,698.52 M1585.72,700.7 L1585.72,706.21 M1585.72,700.7 L1589.05,700.7 L1589.05,705.77 L1585.72,705.77" stroke-width="1.1" fill="none" stroke-linejoin="round"/>
<path d="M1590.5,690.5 L1593.5,696.5 L1593.5,703.5 L1590.5,709.5" stroke-width="1" fill="none" stroke-linejoin="round" stroke-linecap="square"/>
<path d="M575.5,115.76 L579.12,115.76 M576.23,114.4 L576.23,121.2 M578.22,114.4 L578.22,121.2 M575.5,118.48 L579.12,118.14 M576.23,121.2 L579.12,120.86" stroke-width="1.1" fill="none"/>
<path d="M580.33,115.76 L583.95,115.76 M581.05,114.4 L581.05,121.2 M583.04,114.4 L583.04,121.2 M580.33,118.48 L583.95,118.14 M581.05,121.2 L583.95,120.86" stroke-width="1.1" fill="none"/>
<path d="M585.15,115.76 L588.77,115.76 M585.88,114.4 L585.88,121.2 M587.87,114.4 L587.87,121.2 M585.15,118.48 L588.77,118.14 M585.88,121.2 L588.77,120.86" stroke-width="1.1" fill="none"/>
<path d="M589.97,115.76 L593.6,115.76 M590.7,114.4 L590.7,121.2 M592.69,114.4 L592.69,121.2 M589.97,118.48 L593.6,118.14 M590.7,121.2 L593.6,120.86" stroke-width="1.1" fill="none"/>
<path d="M572.1,126.66 L576.38,126.66 M572.96,125.3 L572.96,132.1 M575.31,125.3 L575.31,132.1 M572.1,129.38 L576.38,129.04 M572.96,132.1 L576.38,131.76" stroke-width="1.3" fill="none"/>
<path d="M577.18,126.66 L581.46,126.66 M578.04,125.3 L578.04,132.1 M580.39,125.3 L580.39,132.1 M577.18,129.38 L581.46,129.04 M578.04,132.1 L581.46,131.76" stroke-width="1.3" fill="none"/>
<path d="M582.5,129.5 L585.5,129.5 M587.5,125.5 L588.5,125.5 L589.5,126.5 L589.5,130.5 L588.5,132.5 L587.5,132.5 L586.5,130.5 L586.5,126.5 L587.5,125.5 M590.5,131.5 L591.5,132.5 L592.5,132.5 L593.5,130.5 L593.5,126.5 L592.5,125.5 L591.5,125.5 L590.5,126.5 L590.5,128.5 L591.5,129.5 L592.5,129.5 L593.5,128.5" stroke-width="1" fill="none" stroke-linejoin="round" stroke-linecap="square"/>
<path d="M606.5,116.5 L603.5,116.5 L603.5,118.5 L604.5,118.5 L605.5,118.5 L606.5,119.5 L606.5,120.5 L606.5,121.5 L604.5,121.5 L603.5,120.5" stroke-width="1" fill="none" stroke-linejoin="round" stroke-linecap="square"/>
<path d="M602.5,125.5 L603.5,125.5 L604.5,126.5 L604.5,128.5 L603.5,129.5 L602.5,129.5 L601.5,128.5 L601.5,126.5 L602.5,125.5 M606.5,129.5 L606.5,129.5 L607.5,129.5 L608.5,128.5 L608.5,126.5 L607.5,125.5 L606.5,125.5 L605.5,126.5 L605.5,127.5 L606.5,127.5 L607.5,127.5 L608.5,127.5" stroke-width="1" fill="none" stroke-linejoin="round" stroke-linecap="square"/>
<path d="M1267.3,118.56 L1270.72,118.56 M1267.98,117.2 L1267.98,124 M1269.87,117.2 L1269.87,124 M1267.3,121.28 L1270.72,120.94 M1267.98,124 L1270.72,123.66" stroke-width="1.1" fill="none"/>
<path d="M1271.92,118.56 L1275.35,118.56 M1272.61,117.2 L1272.61,124 M1274.49,117.2 L1274.49,124 M1271.92,121.28 L1275.35,120.94 M1272.61,124 L1275.35,123.66" stroke-width="1.1" fill="none"/>
<path d="M1276.55,118.56 L1279.97,118.56 M1277.23,117.2 L1277.23,124 M1279.12,117.2 L1279.12,124 M1276.55,121.28 L1279.97,120.94 M1277.23,124 L1279.97,123.66" stroke-width="1.1" fill="none"/>
<path d="M1281.17,118.56 L1284.6,118.56 M1281.86,117.2 L1281.86,124 M1283.74,117.2 L1283.74,124 M1281.17,121.28 L1284.6,120.94 M1281.86,124 L1284.6,123.66" stroke-width="1.1" fill="none"/>
<path d="M1264.6,129.36 L1268.76,129.36 M1265.43,128 L1265.43,134.8 M1267.72,128 L1267.72,134.8 M1264.6,132.08 L1268.76,131.74 M1265.43,134.8 L1268.76,134.46" stroke-width="1.3" fill="none"/>
<path d="M1269.56,129.36 L1273.72,129.36 M1270.39,128 L1270.39,134.8 M1272.68,128 L1272.68,134.8 M1269.56,132.08 L1273.72,131.74 M1270.39,134.8 L1273.72,134.46" stroke-width="1.3" fill="none"/>
<path d="M1274.5,131.5 L1277.5,131.5 M1279.5,128.5 L1280.5,128.5 L1281.5,129.5 L1281.5,133.5 L1280.5,134.5 L1279.5,134.5 L1278.5,133.5 L1278.5,129.5 L1279.5,128.5 M1282.5,134.5 L1283.5,134.5 L1284.5,134.5 L1285.5,133.5 L1285.5,129.5 L1284.5,128.5 L1283.5,128.5 L1282.5,129.5 L1282.5,130.5 L1283.5,132.5 L1284.5,132.5 L1285.5,130.5" stroke-width="1" fill="none" stroke-linejoin="round" stroke-linecap="square"/>
<path d="M1298.5,119.5 L1297.5,118.5 L1296.5,118.5 L1295.5,120.5 L1295.5,123.5 L1296.5,124.5 L1297.5,124.5 L1298.5,123.5 L1298.5,122.5 L1297.5,121.5 L1296.5,121.5 L1295.5,122.5" stroke-width="1" fill="none" stroke-linejoin="round" stroke-linecap="square"/>
<path d="M1294.5,128.5 L1295.5,128.5 L1296.5,128.5 L1296.5,131.5 L1295.5,132.5 L1294.5,132.5 L1293.5,131.5 L1293.5,128.5 L1294.5,128.5 M1298.5,128.5 L1299.5,128.5 L1300.5,128.5 L1300.5,129.5 L1299.5,130.5 L1298.5,130.5 L1297.5,129.5 L1297.5,128.5 L1298.5,128.5 M1298.5,130.5 L1297.5,130.5 L1297.5,131.5 L1298.5,132.5 L1299.5,132.5 L1300.5,131.5 L1300.5,130.5 L1299.5,130.5" stroke-width="1" fill="none" stroke-linejoin="round" stroke-linecap="square"/>
<path d="M1364.9,569.56 L1368.62,569.56 M1365.64,568.2 L1365.64,575 M1367.69,568.2 L1367.69,575 M1364.9,572.28 L1368.62,571.94 M1365.64,575 L1368.62,574.66" stroke-width="1.1" fill="none"/>
<path d="M1369.82,569.56 L1373.54,569.56 M1370.56,568.2 L1370.56,575 M1372.61,568.2 L1372.61,575 M1369.82,572.28 L1373.54,571.94 M1370.56,575 L1373.54,574.66" stroke-width="1.1" fill="none"/>
<path d="M1374.74,569.56 L1378.46,569.56 M1375.48,568.2 L1375.48,575 M1377.53,568.2 L1377.53,575 M1374.74,572.28 L1378.46,571.94 M1375.48,575 L1378.46,574.66" stroke-width="1.1" fill="none"/>
<path d="M1379.66,569.56 L1383.38,569.56 M1380.4,568.2 L1380.4,575 M1382.45,568.2 L1382.45,575 M1379.66,572.28 L1383.38,571.94 M1380.4,575 L1383.38,574.66" stroke-width="1.1" fill="none"/>
<path d="M1384.58,569.56 L1388.3,569.56 M1385.32,568.2 L1385.32,575 M1387.37,568.2 L1387.37,575 M1384.58,572.28 L1388.3,571.94 M1385.32,575 L1388.3,574.66" stroke-width="1.1" fill="none"/>
<path d="M1366,579.16 L1370.64,579.16 M1366.93,577.8 L1366.93,584.6 M1369.48,577.8 L1369.48,584.6 M1366,581.88 L1370.64,581.54 M1366.93,584.6 L1370.64,584.26" stroke-width="1.3" fill="none"/>
<path d="M1371.44,579.16 L1376.08,579.16 M1372.37,577.8 L1372.37,584.6 M1374.92,577.8 L1374.92,584.6 M1371.44,581.88 L1376.08,581.54 M1372.37,584.6 L1376.08,584.26" stroke-width="1.3" fill="none"/>
<path d="M1377.5,581.5 L1380.5,581.5 M1382.5,578.5 L1383.5,578.5 L1384.5,579.5 L1384.5,583.5 L1383.5,584.5 L1382.5,584.5 L1381.5,583.5 L1381.5,579.5 L1382.5,578.5 M1386.5,584.5 L1386.5,584.5 L1388.5,584.5 L1389.5,583.5 L1389.5,579.5 L1388.5,578.5 L1386.5,578.5 L1386.5,579.5 L1386.5,580.5 L1386.5,581.5 L1388.5,581.5 L1389.5,580.5" stroke-width="1" fill="none" stroke-linejoin="round" stroke-linecap="square"/>
<path d="M1401.5,574.5 L1401.5,569.5 L1398.5,573.5 L1401.5,573.5" stroke-width="1" fill="none" stroke-linejoin="round" stroke-linecap="square"/>
<path d="M1397.5,578.5 L1398.5,578.5 L1399.5,579.5 L1399.5,581.5 L1398.5,582.5 L1397.5,582.5 L1396.5,581.5 L1396.5,579.5 L1397.5,578.5 M1401.5,578.5 L1402.5,578.5 L1403.5,578.5 L1403.5,579.5 L1402.5,580.5 L1401.5,580.5 L1401.5,579.5 L1401.5,578.5 L1401.5,578.5 M1401.5,580.5 L1400.5,581.5 L1400.5,582.5 L1401.5,582.5 L1402.5,582.5 L1403.5,582.5 L1403.5,581.5 L1402.5,580.5" stroke-width="1" fill="none" stroke-linejoin="round" stroke-linecap="square"/>
<path d="M1544.9,566.76 L1548.5,566.76 M1545.62,565.4 L1545.62,572.2 M1547.6,565.4 L1547.6,572.2 M1544.9,569.48 L1548.5,569.14 M1545.62,572.2 L1548.5,571.86" stroke-width="1.1" fill="none"/>
<path d="M1549.7,566.76 L1553.3,566.76 M1550.42,565.4 L1550.42,572.2 M1552.4,565.4 L1552.4,572.2 M1549.7,569.48 L1553.3,569.14 M1550.42,572.2 L1553.3,571.86" stroke-width="1.1" fill="none"/>
<path d="M1554.5,566.76 L1558.1,566.76 M1555.22,565.4 L1555.22,572.2 M1557.2,565.4 L1557.2,572.2 M1554.5,569.48 L1558.1,569.14 M1555.22,572.2 L1558.1,571.86" stroke-width="1.1" fill="none"/>
<path d="M1559.3,566.76 L1562.9,566.76 M1560.02,565.4 L1560.02,572.2 M1562,565.4 L1562,572.2 M1559.3,569.48 L1562.9,569.14 M1560.02,572.2 L1562.9,571.86" stroke-width="1.1" fill="none"/>
<path d="M1541.5,577.66 L1545.96,577.66 M1542.39,576.3 L1542.39,583.1 M1544.85,576.3 L1544.85,583.1 M1541.5,580.38 L1545.96,580.04 M1542.39,583.1 L1545.96,582.76" stroke-width="1.3" fill="none"/>
<path d="M1546.76,577.66 L1551.22,577.66 M1547.65,576.3 L1547.65,583.1 M1550.11,576.3 L1550.11,583.1 M1546.76,580.38 L1551.22,580.04 M1547.65,583.1 L1551.22,582.76" stroke-width="1.3" fill="none"/>
<path d="M1552.5,580.5 L1555.5,580.5 M1557.5,576.5 L1558.5,576.5 L1559.5,577.5 L1559.5,581.5 L1558.5,583.5 L1557.5,583.5 L1556.5,581.5 L1556.5,577.5 L1557.5,576.5 M1560.5,582.5 L1561.5,583.5 L1562.5,583.5 L1563.5,581.5 L1563.5,577.5 L1562.5,576.5 L1561.5,576.5 L1560.5,577.5 L1560.5,579.5 L1561.5,580.5 L1562.5,580.5 L1563.5,579.5" stroke-width="1" fill="none" stroke-linejoin="round" stroke-linecap="square"/>
<path d="M1572.5,567.5 L1575.5,567.5 L1573.5,572.5" stroke-width="1" fill="none" stroke-linejoin="round" stroke-linecap="square"/>
<path d="M1571.5,576.5 L1572.5,576.5 L1573.5,577.5 L1573.5,579.5 L1572.5,580.5 L1571.5,580.5 L1570.5,579.5 L1570.5,577.5 L1571.5,576.5 M1575.5,576.5 L1576.5,576.5 L1577.5,576.5 L1577.5,577.5 L1576.5,578.5 L1575.5,578.5 L1574.5,577.5 L1574.5,576.5 L1575.5,576.5 M1575.5,578.5 L1574.5,579.5 L1574.5,580.5 L1575.5,580.5 L1576.5,580.5 L1577.5,580.5 L1577.5,579.5 L1576.5,578.5" stroke-width="1" fill="none" stroke-linejoin="round" stroke-linecap="square"/>
</g>
</svg></body></html>
